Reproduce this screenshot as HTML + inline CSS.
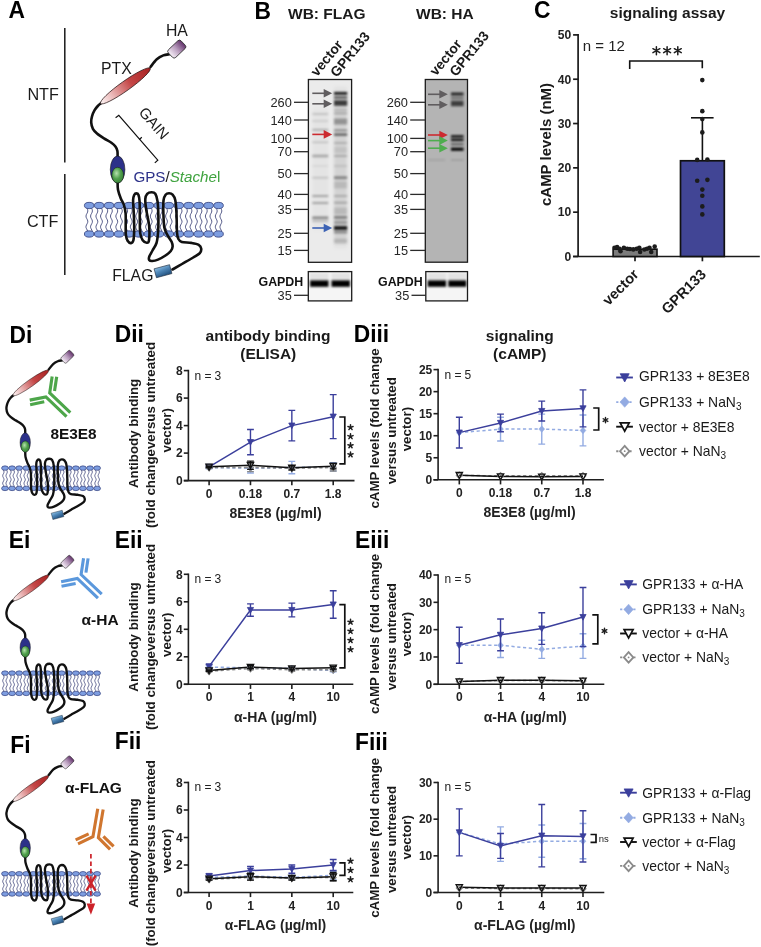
<!DOCTYPE html><html><head><meta charset="utf-8"><style>html,body{margin:0;padding:0;background:#fff;}svg{display:block;will-change:transform;}</style></head><body>
<svg width="761" height="947" viewBox="0 0 761 947" font-family='"Liberation Sans", sans-serif'>
<defs>
<linearGradient id="gPTX" gradientUnits="userSpaceOnUse" x1="-30" y1="0" x2="30" y2="0">
<stop offset="0" stop-color="#fdf3f3"/><stop offset="0.22" stop-color="#ecbcbc"/><stop offset="0.6" stop-color="#c44646"/><stop offset="1" stop-color="#a92222"/></linearGradient>
<linearGradient id="gHA" gradientUnits="userSpaceOnUse" x1="-8" y1="0" x2="8" y2="0">
<stop offset="0" stop-color="#f1e8f2"/><stop offset="0.5" stop-color="#b89cbd"/><stop offset="1" stop-color="#6a3b72"/></linearGradient>
<radialGradient id="gGreen" cx="0.4" cy="0.38" r="0.65">
<stop offset="0" stop-color="#b5e0ad"/><stop offset="0.55" stop-color="#4f9f4b"/><stop offset="1" stop-color="#3a8438"/></radialGradient>
<linearGradient id="gFLAG" x1="0" y1="0" x2="0.3" y2="1">
<stop offset="0" stop-color="#8fc0e4"/><stop offset="0.5" stop-color="#4f87b8"/><stop offset="1" stop-color="#2a5a88"/></linearGradient>
<filter id="blur1" x="-50%" y="-200%" width="200%" height="500%"><feGaussianBlur stdDeviation="0.7"/></filter>
<filter id="blur2" x="-50%" y="-200%" width="200%" height="500%"><feGaussianBlur stdDeviation="1.3"/></filter>
<filter id="bb" x="-50%" y="-300%" width="200%" height="700%"><feGaussianBlur stdDeviation="1.1 0.8"/></filter>
<filter id="bs" x="-50%" y="-20%" width="200%" height="140%"><feGaussianBlur stdDeviation="1.5 3"/></filter>
<filter id="blur3" x="-50%" y="-100%" width="200%" height="300%"><feGaussianBlur stdDeviation="2.2"/></filter>

</defs>
<text x="0" y="0" font-size="24.8" font-weight="bold" fill="#000" transform="translate(8.40,18.40) scale(0.92,1)">A</text>
<g stroke="#1a1a1a" stroke-width="1.5"><line x1="64.8" y1="28" x2="64.8" y2="162.6"/><line x1="64.8" y1="174" x2="64.8" y2="275"/></g>
<text x="27.40" y="100.20" font-size="16.2" fill="#1a1a1a">NTF</text>
<text x="26.90" y="227.00" font-size="16.2" fill="#1a1a1a">CTF</text>
<g><path d="M86.9,208.3 L87.6,209.6 L87.8,210.9 L87.6,212.1 L87.0,213.4 L86.3,214.7 L86.0,216.0 L86.1,217.2 L86.7,218.5 L87.4,219.8 L87.8,221.1 L87.7,222.4 L87.2,223.6 L86.5,224.9 L86.0,226.2 L86.0,227.5 L86.5,228.7 L87.2,230.0 L87.7,231.3 M91.5,208.3 L92.2,209.6 L92.4,210.9 L92.2,212.1 L91.6,213.4 L90.9,214.7 L90.6,216.0 L90.7,217.2 L91.3,218.5 L92.0,219.8 L92.4,221.1 L92.3,222.4 L91.8,223.6 L91.1,224.9 L90.6,226.2 L90.6,227.5 L91.1,228.7 L91.8,230.0 L92.3,231.3 M96.9,208.3 L97.5,209.6 L97.8,210.9 L97.6,212.1 L97.0,213.4 L96.3,214.7 L95.9,216.0 L96.1,217.2 L96.6,218.5 L97.3,219.8 L97.8,221.1 L97.7,222.4 L97.2,223.6 L96.5,224.9 L96.0,226.2 L96.0,227.5 L96.4,228.7 L97.1,230.0 L97.7,231.3 M101.5,208.3 L102.1,209.6 L102.4,210.9 L102.2,212.1 L101.6,213.4 L100.9,214.7 L100.5,216.0 L100.7,217.2 L101.2,218.5 L101.9,219.8 L102.4,221.1 L102.3,222.4 L101.8,223.6 L101.1,224.9 L100.6,226.2 L100.6,227.5 L101.0,228.7 L101.7,230.0 L102.3,231.3 M106.8,208.3 L107.5,209.6 L107.7,210.9 L107.5,212.1 L106.9,213.4 L106.2,214.7 L105.9,216.0 L106.0,217.2 L106.6,218.5 L107.3,219.8 L107.7,221.1 L107.6,222.4 L107.1,223.6 L106.4,224.9 L105.9,226.2 L105.9,227.5 L106.4,228.7 L107.1,230.0 L107.6,231.3 M111.4,208.3 L112.1,209.6 L112.3,210.9 L112.1,212.1 L111.5,213.4 L110.8,214.7 L110.5,216.0 L110.6,217.2 L111.2,218.5 L111.9,219.8 L112.3,221.1 L112.2,222.4 L111.7,223.6 L111.0,224.9 L110.5,226.2 L110.5,227.5 L111.0,228.7 L111.7,230.0 L112.2,231.3 M116.8,208.3 L117.4,209.6 L117.7,210.9 L117.5,212.1 L116.9,213.4 L116.2,214.7 L115.8,216.0 L116.0,217.2 L116.5,218.5 L117.2,219.8 L117.7,221.1 L117.6,222.4 L117.1,223.6 L116.4,224.9 L115.9,226.2 L115.9,227.5 L116.3,228.7 L117.0,230.0 L117.6,231.3 M121.3,208.3 L122.0,209.6 L122.3,210.9 L122.1,212.1 L121.5,213.4 L120.8,214.7 L120.4,216.0 L120.6,217.2 L121.1,218.5 L121.8,219.8 L122.3,221.1 L122.2,222.4 L121.7,223.6 L121.0,224.9 L120.5,226.2 L120.5,227.5 L120.9,228.7 L121.6,230.0 L122.2,231.3 M126.7,208.3 L127.4,209.6 L127.6,210.9 L127.4,212.1 L126.8,213.4 L126.1,214.7 L125.8,216.0 L125.9,217.2 L126.5,218.5 L127.2,219.8 L127.6,221.1 L127.5,222.4 L127.0,223.6 L126.3,224.9 L125.8,226.2 L125.8,227.5 L126.3,228.7 L127.0,230.0 L127.5,231.3 M131.3,208.3 L132.0,209.6 L132.2,210.9 L132.0,212.1 L131.4,213.4 L130.7,214.7 L130.4,216.0 L130.5,217.2 L131.1,218.5 L131.8,219.8 L132.2,221.1 L132.1,222.4 L131.6,223.6 L130.9,224.9 L130.4,226.2 L130.4,227.5 L130.9,228.7 L131.6,230.0 L132.1,231.3 M136.6,208.3 L137.3,209.6 L137.6,210.9 L137.4,212.1 L136.8,213.4 L136.1,214.7 L135.7,216.0 L135.9,217.2 L136.4,218.5 L137.1,219.8 L137.6,221.1 L137.5,222.4 L137.0,223.6 L136.3,224.9 L135.8,226.2 L135.8,227.5 L136.2,228.7 L136.9,230.0 L137.5,231.3 M141.2,208.3 L141.9,209.6 L142.2,210.9 L142.0,212.1 L141.4,213.4 L140.7,214.7 L140.3,216.0 L140.5,217.2 L141.0,218.5 L141.7,219.8 L142.2,221.1 L142.1,222.4 L141.6,223.6 L140.9,224.9 L140.4,226.2 L140.4,227.5 L140.8,228.7 L141.5,230.0 L142.1,231.3 M146.6,208.3 L147.3,209.6 L147.5,210.9 L147.3,212.1 L146.7,213.4 L146.0,214.7 L145.7,216.0 L145.8,217.2 L146.4,218.5 L147.1,219.8 L147.5,221.1 L147.4,222.4 L146.9,223.6 L146.2,224.9 L145.7,226.2 L145.7,227.5 L146.2,228.7 L146.9,230.0 L147.4,231.3 M151.2,208.3 L151.9,209.6 L152.1,210.9 L151.9,212.1 L151.3,213.4 L150.6,214.7 L150.3,216.0 L150.4,217.2 L151.0,218.5 L151.7,219.8 L152.1,221.1 L152.0,222.4 L151.5,223.6 L150.8,224.9 L150.3,226.2 L150.3,227.5 L150.8,228.7 L151.5,230.0 L152.0,231.3 M156.5,208.3 L157.2,209.6 L157.5,210.9 L157.3,212.1 L156.7,213.4 L156.0,214.7 L155.6,216.0 L155.8,217.2 L156.3,218.5 L157.0,219.8 L157.5,221.1 L157.4,222.4 L156.9,223.6 L156.2,224.9 L155.7,226.2 L155.7,227.5 L156.1,228.7 L156.8,230.0 L157.4,231.3 M161.2,208.3 L161.8,209.6 L162.1,210.9 L161.9,212.1 L161.3,213.4 L160.6,214.7 L160.2,216.0 L160.4,217.2 L160.9,218.5 L161.6,219.8 L162.1,221.1 L162.0,222.4 L161.5,223.6 L160.8,224.9 L160.3,226.2 L160.3,227.5 L160.7,228.7 L161.4,230.0 L162.0,231.3 M166.5,208.3 L167.2,209.6 L167.4,210.9 L167.2,212.1 L166.6,213.4 L165.9,214.7 L165.6,216.0 L165.7,217.2 L166.3,218.5 L167.0,219.8 L167.4,221.1 L167.3,222.4 L166.8,223.6 L166.1,224.9 L165.6,226.2 L165.6,227.5 L166.1,228.7 L166.8,230.0 L167.3,231.3 M171.1,208.3 L171.8,209.6 L172.0,210.9 L171.8,212.1 L171.2,213.4 L170.5,214.7 L170.2,216.0 L170.3,217.2 L170.9,218.5 L171.6,219.8 L172.0,221.1 L171.9,222.4 L171.4,223.6 L170.7,224.9 L170.2,226.2 L170.2,227.5 L170.7,228.7 L171.4,230.0 L171.9,231.3 M176.4,208.3 L177.1,209.6 L177.4,210.9 L177.2,212.1 L176.6,213.4 L175.9,214.7 L175.5,216.0 L175.7,217.2 L176.2,218.5 L176.9,219.8 L177.4,221.1 L177.3,222.4 L176.8,223.6 L176.1,224.9 L175.6,226.2 L175.6,227.5 L176.0,228.7 L176.7,230.0 L177.3,231.3 M181.1,208.3 L181.7,209.6 L182.0,210.9 L181.8,212.1 L181.2,213.4 L180.5,214.7 L180.1,216.0 L180.3,217.2 L180.8,218.5 L181.5,219.8 L182.0,221.1 L181.9,222.4 L181.4,223.6 L180.7,224.9 L180.2,226.2 L180.2,227.5 L180.6,228.7 L181.3,230.0 L181.9,231.3 M186.4,208.3 L187.1,209.6 L187.3,210.9 L187.1,212.1 L186.5,213.4 L185.8,214.7 L185.5,216.0 L185.6,217.2 L186.2,218.5 L186.9,219.8 L187.3,221.1 L187.2,222.4 L186.7,223.6 L186.0,224.9 L185.5,226.2 L185.5,227.5 L186.0,228.7 L186.7,230.0 L187.2,231.3 M191.0,208.3 L191.7,209.6 L191.9,210.9 L191.7,212.1 L191.1,213.4 L190.4,214.7 L190.1,216.0 L190.2,217.2 L190.8,218.5 L191.5,219.8 L191.9,221.1 L191.8,222.4 L191.3,223.6 L190.6,224.9 L190.1,226.2 L190.1,227.5 L190.6,228.7 L191.3,230.0 L191.8,231.3 M196.3,208.3 L197.0,209.6 L197.3,210.9 L197.1,212.1 L196.5,213.4 L195.8,214.7 L195.4,216.0 L195.6,217.2 L196.1,218.5 L196.8,219.8 L197.3,221.1 L197.2,222.4 L196.7,223.6 L196.0,224.9 L195.5,226.2 L195.5,227.5 L195.9,228.7 L196.6,230.0 L197.2,231.3 M200.9,208.3 L201.6,209.6 L201.9,210.9 L201.7,212.1 L201.1,213.4 L200.4,214.7 L200.0,216.0 L200.2,217.2 L200.7,218.5 L201.4,219.8 L201.9,221.1 L201.8,222.4 L201.3,223.6 L200.6,224.9 L200.1,226.2 L200.1,227.5 L200.5,228.7 L201.2,230.0 L201.8,231.3 M206.3,208.3 L207.0,209.6 L207.2,210.9 L207.0,212.1 L206.4,213.4 L205.7,214.7 L205.4,216.0 L205.5,217.2 L206.1,218.5 L206.8,219.8 L207.2,221.1 L207.1,222.4 L206.6,223.6 L205.9,224.9 L205.4,226.2 L205.4,227.5 L205.9,228.7 L206.6,230.0 L207.1,231.3 M210.9,208.3 L211.6,209.6 L211.8,210.9 L211.6,212.1 L211.0,213.4 L210.3,214.7 L210.0,216.0 L210.1,217.2 L210.7,218.5 L211.4,219.8 L211.8,221.1 L211.7,222.4 L211.2,223.6 L210.5,224.9 L210.0,226.2 L210.0,227.5 L210.5,228.7 L211.2,230.0 L211.7,231.3 M216.2,208.3 L216.9,209.6 L217.2,210.9 L217.0,212.1 L216.4,213.4 L215.7,214.7 L215.3,216.0 L215.5,217.2 L216.0,218.5 L216.7,219.8 L217.2,221.1 L217.1,222.4 L216.6,223.6 L215.9,224.9 L215.4,226.2 L215.4,227.5 L215.8,228.7 L216.5,230.0 L217.1,231.3 M220.9,208.3 L221.5,209.6 L221.8,210.9 L221.6,212.1 L221.0,213.4 L220.3,214.7 L219.9,216.0 L220.1,217.2 L220.6,218.5 L221.3,219.8 L221.8,221.1 L221.7,222.4 L221.2,223.6 L220.5,224.9 L220.0,226.2 L220.0,227.5 L220.4,228.7 L221.1,230.0 L221.7,231.3" fill="none" stroke="#1e2563" stroke-width="0.75"/><g fill="#7d9de0" stroke="#2b3572" stroke-width="0.75"><ellipse cx="89.20" cy="205.5" rx="4.8" ry="3.15"/><ellipse cx="99.15" cy="205.5" rx="4.8" ry="3.15"/><ellipse cx="109.10" cy="205.5" rx="4.8" ry="3.15"/><ellipse cx="119.05" cy="205.5" rx="4.8" ry="3.15"/><ellipse cx="129.00" cy="205.5" rx="4.8" ry="3.15"/><ellipse cx="138.95" cy="205.5" rx="4.8" ry="3.15"/><ellipse cx="148.90" cy="205.5" rx="4.8" ry="3.15"/><ellipse cx="158.85" cy="205.5" rx="4.8" ry="3.15"/><ellipse cx="168.80" cy="205.5" rx="4.8" ry="3.15"/><ellipse cx="178.75" cy="205.5" rx="4.8" ry="3.15"/><ellipse cx="188.70" cy="205.5" rx="4.8" ry="3.15"/><ellipse cx="198.65" cy="205.5" rx="4.8" ry="3.15"/><ellipse cx="208.60" cy="205.5" rx="4.8" ry="3.15"/><ellipse cx="218.55" cy="205.5" rx="4.8" ry="3.15"/><ellipse cx="89.20" cy="234.0" rx="4.8" ry="3.15"/><ellipse cx="99.15" cy="234.0" rx="4.8" ry="3.15"/><ellipse cx="109.10" cy="234.0" rx="4.8" ry="3.15"/><ellipse cx="119.05" cy="234.0" rx="4.8" ry="3.15"/><ellipse cx="129.00" cy="234.0" rx="4.8" ry="3.15"/><ellipse cx="138.95" cy="234.0" rx="4.8" ry="3.15"/><ellipse cx="148.90" cy="234.0" rx="4.8" ry="3.15"/><ellipse cx="158.85" cy="234.0" rx="4.8" ry="3.15"/><ellipse cx="168.80" cy="234.0" rx="4.8" ry="3.15"/><ellipse cx="178.75" cy="234.0" rx="4.8" ry="3.15"/><ellipse cx="188.70" cy="234.0" rx="4.8" ry="3.15"/><ellipse cx="198.65" cy="234.0" rx="4.8" ry="3.15"/><ellipse cx="208.60" cy="234.0" rx="4.8" ry="3.15"/><ellipse cx="218.55" cy="234.0" rx="4.8" ry="3.15"/></g><path d="M169.50,54.20 C168.47,54.40 165.42,54.55 163.30,55.40 C161.18,56.25 158.93,57.37 156.80,59.30 C154.67,61.23 151.55,65.72 150.50,67.00" fill="none" stroke="#111" stroke-width="2.6" stroke-linecap="round"/><path d="M101.20,103.00 C100.63,103.50 98.90,104.80 97.80,106.00 C96.70,107.20 95.57,108.48 94.60,110.20 C93.63,111.92 92.57,114.28 92.00,116.30 C91.43,118.32 91.05,120.22 91.20,122.30 C91.35,124.38 91.93,126.93 92.90,128.80 C93.87,130.67 95.15,131.90 97.00,133.50 C98.85,135.10 101.60,136.85 104.00,138.40 C106.40,139.95 109.47,141.40 111.40,142.80 C113.33,144.20 114.60,145.43 115.60,146.80 C116.60,148.17 117.07,149.30 117.40,151.00 C117.73,152.70 117.57,156.00 117.60,157.00" fill="none" stroke="#111" stroke-width="2.6" stroke-linecap="round"/><path d="M117.60,182.00 C117.67,183.30 117.47,187.05 118.00,189.80 C118.53,192.55 119.82,196.00 120.80,198.50 C121.78,201.00 123.10,202.30 123.90,204.80 C124.70,207.30 125.30,210.08 125.60,213.50 C125.90,216.92 125.65,221.75 125.70,225.30 C125.75,228.85 125.58,232.22 125.90,234.80 C126.22,237.38 126.75,239.42 127.60,240.80 C128.45,242.18 130.03,243.18 131.00,243.10 C131.97,243.02 132.87,242.60 133.40,240.30 C133.93,238.00 134.13,233.77 134.20,229.30 C134.27,224.83 133.98,218.38 133.80,213.50 C133.62,208.62 133.03,203.08 133.10,200.00 C133.17,196.92 133.67,196.10 134.20,195.00 C134.73,193.90 135.58,193.40 136.30,193.40 C137.02,193.40 137.95,193.62 138.50,195.00 C139.05,196.38 139.38,197.97 139.60,201.70 C139.82,205.43 139.70,212.15 139.80,217.40 C139.90,222.65 139.72,229.38 140.20,233.20 C140.68,237.02 141.63,238.72 142.70,240.30 C143.77,241.88 145.55,242.70 146.60,242.70 C147.65,242.70 148.58,243.20 149.00,240.30 C149.42,237.40 149.57,230.43 149.10,225.30 C148.63,220.17 146.83,213.88 146.20,209.50 C145.57,205.12 145.13,201.62 145.30,199.00 C145.47,196.38 146.17,194.92 147.20,193.80 C148.23,192.68 150.15,192.30 151.50,192.30 C152.85,192.30 154.28,192.23 155.30,193.80 C156.32,195.37 157.08,197.77 157.60,201.70 C158.12,205.63 158.32,212.35 158.40,217.40 C158.48,222.45 158.42,227.73 158.10,232.00 C157.78,236.27 157.43,239.92 156.50,243.00 C155.57,246.08 153.70,248.25 152.50,250.50 C151.30,252.75 149.85,254.92 149.30,256.50 C148.75,258.08 148.72,259.25 149.20,260.00 C149.68,260.75 150.73,261.07 152.20,261.00 C153.67,260.93 155.78,260.52 158.00,259.60 C160.22,258.68 163.37,256.93 165.50,255.50 C167.63,254.07 169.62,252.48 170.80,251.00 C171.98,249.52 172.47,248.13 172.60,246.60 C172.73,245.07 172.43,243.67 171.60,241.80 C170.77,239.93 168.80,237.73 167.60,235.40 C166.40,233.07 165.10,231.45 164.40,227.80 C163.70,224.15 163.55,218.05 163.40,213.50 C163.25,208.95 163.13,203.62 163.50,200.50 C163.87,197.38 164.68,196.02 165.60,194.80 C166.52,193.58 167.83,193.23 169.00,193.20 C170.17,193.17 171.55,193.43 172.60,194.60 C173.65,195.77 174.65,197.05 175.30,200.20 C175.95,203.35 176.22,208.12 176.50,213.50 C176.78,218.88 176.68,228.25 177.00,232.50 C177.32,236.75 177.60,237.43 178.40,239.00 C179.20,240.57 179.65,241.25 181.80,241.90 C183.95,242.55 188.48,242.42 191.30,242.90 C194.12,243.38 197.05,243.85 198.70,244.80 C200.35,245.75 201.02,247.20 201.20,248.60 C201.38,250.00 201.13,251.72 199.80,253.20 C198.47,254.68 196.17,255.70 193.20,257.50 C190.23,259.30 185.45,262.00 182.00,264.00 C178.55,266.00 174.08,268.58 172.50,269.50" fill="none" stroke="#111" stroke-width="2.6" stroke-linecap="round" stroke-linejoin="round"/><g transform="translate(125.4,85.9) rotate(-35.4)"><ellipse cx="0" cy="0" rx="30.4" ry="4.8" fill="url(#gPTX)" stroke="#2a1515" stroke-width="0.7"/></g><g transform="translate(176.8,49.1) rotate(-43.5)"><rect x="-8.8" y="-5.3" width="17.6" height="10.6" rx="2.4" fill="url(#gHA)" stroke="#2a2a2a" stroke-width="0.8"/></g><ellipse cx="117.6" cy="169.5" rx="7.3" ry="13.5" fill="#2c3189" stroke="#111" stroke-width="0.6"/><ellipse cx="117.7" cy="175.2" rx="5.9" ry="7.9" fill="url(#gGreen)" stroke="#111" stroke-width="0.5"/><g transform="translate(163.0,271.2) rotate(-15)"><rect x="-8" y="-4.6" width="16" height="9.2" fill="url(#gFLAG)" stroke="#1d2b3d" stroke-width="0.6"/></g></g>
<text x="165.90" y="35.80" font-size="15.8" fill="#1a1a1a">HA</text>
<text x="101.00" y="73.70" font-size="15.8" fill="#1a1a1a">PTX</text>
<polyline points="115.6,117.8 118.8,115.3 157.8,160.2 154.8,162.9" fill="none" stroke="#111" stroke-width="1.2"/>
<line x1="139.3" y1="139.5" x2="141.8" y2="137.3" stroke="#111" stroke-width="1.2"/>
<text x="0.00" y="0.00" font-size="15" fill="#1a1a1a" transform="translate(138.0,112.8) rotate(49)">GAIN</text>
<text x="133.4" y="181.6" font-size="15.2"><tspan fill="#2c3189">GPS</tspan><tspan fill="#1a1a1a">/</tspan><tspan fill="#3fa33f" font-style="italic">Stache</tspan><tspan fill="#3fa33f">l</tspan></text>
<text x="112.20" y="280.60" font-size="15.8" fill="#1a1a1a">FLAG</text>
<text x="0" y="0" font-size="24.8" font-weight="bold" fill="#000" transform="translate(254.60,18.60) scale(0.92,1)">B</text>
<text x="288.00" y="18.80" font-size="15.5" font-weight="bold" fill="#1a1a1a">WB: FLAG</text>
<text x="416.00" y="18.80" font-size="15.5" font-weight="bold" fill="#1a1a1a">WB: HA</text>
<rect x="308.4" y="79.5" width="43.200000000000045" height="182.8" fill="#ebebeb"/>
<rect x="334" y="90" width="13" height="155" fill="#000" fill-opacity="0.10" filter="url(#bs)"/>
<rect x="313" y="108" width="15" height="120" fill="#000" fill-opacity="0.03" filter="url(#bs)"/>
<rect x="334.00" y="92.10" width="13.20" height="2.60" fill="#000" fill-opacity="0.92" filter="url(#bb)"/>
<rect x="334.00" y="96.00" width="13.20" height="3.00" fill="#000" fill-opacity="0.5" filter="url(#bb)"/>
<rect x="334.00" y="100.25" width="13.20" height="5.50" fill="#000" fill-opacity="0.72" filter="url(#bb)"/>
<rect x="334.00" y="108.50" width="13.20" height="3.00" fill="#000" fill-opacity="0.12" filter="url(#bb)"/>
<rect x="334.00" y="112.40" width="13.20" height="2.00" fill="#000" fill-opacity="0.22" filter="url(#bb)"/>
<rect x="334.00" y="118.50" width="13.20" height="6.00" fill="#000" fill-opacity="0.3" filter="url(#bb)"/>
<rect x="334.00" y="129.40" width="13.20" height="2.00" fill="#000" fill-opacity="0.35" filter="url(#bb)"/>
<rect x="334.00" y="133.50" width="13.20" height="2.20" fill="#000" fill-opacity="0.6" filter="url(#bb)"/>
<rect x="334.00" y="142.20" width="13.20" height="1.60" fill="#000" fill-opacity="0.22" filter="url(#bb)"/>
<rect x="334.00" y="147.00" width="13.20" height="6.00" fill="#000" fill-opacity="0.08" filter="url(#bb)"/>
<rect x="334.00" y="155.00" width="13.20" height="2.00" fill="#000" fill-opacity="0.2" filter="url(#bb)"/>
<rect x="334.00" y="165.00" width="13.20" height="2.00" fill="#000" fill-opacity="0.1" filter="url(#bb)"/>
<rect x="334.00" y="176.30" width="13.20" height="2.80" fill="#000" fill-opacity="0.38" filter="url(#bb)"/>
<rect x="334.00" y="181.50" width="13.20" height="7.00" fill="#000" fill-opacity="0.12" filter="url(#bb)"/>
<rect x="334.00" y="195.10" width="13.20" height="1.80" fill="#000" fill-opacity="0.22" filter="url(#bb)"/>
<rect x="334.00" y="201.80" width="13.20" height="1.80" fill="#000" fill-opacity="0.25" filter="url(#bb)"/>
<rect x="334.00" y="207.50" width="13.20" height="7.00" fill="#000" fill-opacity="0.12" filter="url(#bb)"/>
<rect x="334.00" y="216.10" width="13.20" height="2.60" fill="#000" fill-opacity="0.42" filter="url(#bb)"/>
<rect x="334.00" y="220.50" width="13.20" height="4.00" fill="#000" fill-opacity="0.25" filter="url(#bb)"/>
<rect x="334.00" y="226.10" width="13.20" height="3.80" fill="#000" fill-opacity="0.9" filter="url(#bb)"/>
<rect x="334.00" y="230.50" width="13.20" height="3.00" fill="#000" fill-opacity="0.35" filter="url(#bb)"/>
<rect x="334.00" y="238.75" width="13.20" height="4.50" fill="#000" fill-opacity="0.15" filter="url(#bb)"/>
<rect x="312.30" y="113.20" width="16.00" height="1.60" fill="#000" fill-opacity="0.18" filter="url(#bb)"/>
<rect x="312.30" y="120.20" width="16.00" height="1.60" fill="#000" fill-opacity="0.13" filter="url(#bb)"/>
<rect x="312.30" y="128.90" width="16.00" height="1.80" fill="#000" fill-opacity="0.25" filter="url(#bb)"/>
<rect x="312.30" y="141.55" width="16.00" height="1.50" fill="#000" fill-opacity="0.18" filter="url(#bb)"/>
<rect x="312.30" y="154.70" width="16.00" height="2.60" fill="#000" fill-opacity="0.27" filter="url(#bb)"/>
<rect x="312.30" y="165.40" width="16.00" height="1.20" fill="#000" fill-opacity="0.1" filter="url(#bb)"/>
<rect x="312.30" y="176.90" width="16.00" height="1.60" fill="#000" fill-opacity="0.18" filter="url(#bb)"/>
<rect x="312.30" y="195.10" width="16.00" height="1.80" fill="#000" fill-opacity="0.32" filter="url(#bb)"/>
<rect x="312.30" y="202.10" width="16.00" height="1.80" fill="#000" fill-opacity="0.32" filter="url(#bb)"/>
<rect x="312.30" y="216.50" width="16.00" height="2.60" fill="#000" fill-opacity="0.4" filter="url(#bb)"/>
<rect x="312.30" y="220.00" width="16.00" height="2.00" fill="#000" fill-opacity="0.18" filter="url(#bb)"/>
<rect x="308.4" y="79.5" width="43.200000000000045" height="182.8" fill="none" stroke="#1c1c1c" stroke-width="1.3"/>
<line x1="294.0" y1="102.3" x2="308.4" y2="102.3" stroke="#2a2a2a" stroke-width="1.3"/><text x="291.80" y="106.80" font-size="12.8" text-anchor="end" fill="#262626">260</text><line x1="294.0" y1="120.0" x2="308.4" y2="120.0" stroke="#2a2a2a" stroke-width="1.3"/><text x="291.80" y="124.50" font-size="12.8" text-anchor="end" fill="#262626">140</text><line x1="294.0" y1="138.4" x2="308.4" y2="138.4" stroke="#2a2a2a" stroke-width="1.3"/><text x="291.80" y="142.90" font-size="12.8" text-anchor="end" fill="#262626">100</text><line x1="294.0" y1="151.7" x2="308.4" y2="151.7" stroke="#2a2a2a" stroke-width="1.3"/><text x="291.80" y="156.20" font-size="12.8" text-anchor="end" fill="#262626">70</text><line x1="294.0" y1="173.6" x2="308.4" y2="173.6" stroke="#2a2a2a" stroke-width="1.3"/><text x="291.80" y="178.10" font-size="12.8" text-anchor="end" fill="#262626">50</text><line x1="294.0" y1="194.4" x2="308.4" y2="194.4" stroke="#2a2a2a" stroke-width="1.3"/><text x="291.80" y="198.90" font-size="12.8" text-anchor="end" fill="#262626">40</text><line x1="294.0" y1="209.4" x2="308.4" y2="209.4" stroke="#2a2a2a" stroke-width="1.3"/><text x="291.80" y="213.90" font-size="12.8" text-anchor="end" fill="#262626">35</text><line x1="294.0" y1="233.3" x2="308.4" y2="233.3" stroke="#2a2a2a" stroke-width="1.3"/><text x="291.80" y="237.80" font-size="12.8" text-anchor="end" fill="#262626">25</text><line x1="294.0" y1="250.4" x2="308.4" y2="250.4" stroke="#2a2a2a" stroke-width="1.3"/><text x="291.80" y="254.90" font-size="12.8" text-anchor="end" fill="#262626">15</text>
<line x1="312.3" y1="93.3" x2="324.7" y2="93.3" stroke="#605d5f" stroke-width="1.6"/><polygon points="323.7,89.0 332.2,93.3 323.7,97.6" fill="#605d5f"/>
<line x1="312.3" y1="103.8" x2="324.7" y2="103.8" stroke="#605d5f" stroke-width="1.6"/><polygon points="323.7,99.5 332.2,103.8 323.7,108.1" fill="#605d5f"/>
<line x1="312.3" y1="134.4" x2="324.7" y2="134.4" stroke="#cc2b30" stroke-width="1.6"/><polygon points="323.7,130.1 332.2,134.4 323.7,138.70000000000002" fill="#cc2b30"/>
<line x1="312.3" y1="228.0" x2="324.7" y2="228.0" stroke="#3c62b4" stroke-width="1.6"/><polygon points="323.7,223.7 332.2,228.0 323.7,232.3" fill="#3c62b4"/>
<text x="0.00" y="0.00" font-size="13.9" font-weight="bold" fill="#1a1a1a" transform="translate(317.0,77.2) rotate(-50.5)">vector</text>
<text x="0.00" y="0.00" font-size="13.9" font-weight="bold" fill="#1a1a1a" transform="translate(336.8,78.0) rotate(-50.5)">GPR133</text>
<rect x="425.3" y="79.5" width="42.19999999999999" height="182.7" fill="#b4b4b4"/>
<rect x="451.00" y="92.50" width="12.50" height="3.00" fill="#000" fill-opacity="0.8" filter="url(#bb)"/>
<rect x="451.00" y="96.50" width="12.50" height="3.00" fill="#000" fill-opacity="0.35" filter="url(#bb)"/>
<rect x="451.00" y="100.75" width="12.50" height="5.50" fill="#000" fill-opacity="0.66" filter="url(#bb)"/>
<rect x="451.00" y="135.10" width="12.50" height="2.60" fill="#000" fill-opacity="0.88" filter="url(#bb)"/>
<rect x="451.00" y="138.50" width="12.50" height="2.60" fill="#000" fill-opacity="0.9" filter="url(#bb)"/>
<rect x="451.00" y="143.20" width="12.50" height="2.00" fill="#000" fill-opacity="0.5" filter="url(#bb)"/>
<rect x="451.00" y="147.60" width="12.50" height="3.20" fill="#000" fill-opacity="0.97" filter="url(#bb)"/>
<rect x="451.00" y="159.10" width="12.50" height="1.80" fill="#000" fill-opacity="0.12" filter="url(#bb)"/>
<rect x="428.00" y="159.10" width="17.00" height="1.80" fill="#000" fill-opacity="0.1" filter="url(#bb)"/>
<rect x="425.3" y="79.5" width="42.19999999999999" height="182.7" fill="none" stroke="#1c1c1c" stroke-width="1.3"/>
<line x1="410.2" y1="102.3" x2="425.3" y2="102.3" stroke="#2a2a2a" stroke-width="1.3"/><text x="408.00" y="106.80" font-size="12.8" text-anchor="end" fill="#262626">260</text><line x1="410.2" y1="120.0" x2="425.3" y2="120.0" stroke="#2a2a2a" stroke-width="1.3"/><text x="408.00" y="124.50" font-size="12.8" text-anchor="end" fill="#262626">140</text><line x1="410.2" y1="138.4" x2="425.3" y2="138.4" stroke="#2a2a2a" stroke-width="1.3"/><text x="408.00" y="142.90" font-size="12.8" text-anchor="end" fill="#262626">100</text><line x1="410.2" y1="151.7" x2="425.3" y2="151.7" stroke="#2a2a2a" stroke-width="1.3"/><text x="408.00" y="156.20" font-size="12.8" text-anchor="end" fill="#262626">70</text><line x1="410.2" y1="173.6" x2="425.3" y2="173.6" stroke="#2a2a2a" stroke-width="1.3"/><text x="408.00" y="178.10" font-size="12.8" text-anchor="end" fill="#262626">50</text><line x1="410.2" y1="194.4" x2="425.3" y2="194.4" stroke="#2a2a2a" stroke-width="1.3"/><text x="408.00" y="198.90" font-size="12.8" text-anchor="end" fill="#262626">40</text><line x1="410.2" y1="209.4" x2="425.3" y2="209.4" stroke="#2a2a2a" stroke-width="1.3"/><text x="408.00" y="213.90" font-size="12.8" text-anchor="end" fill="#262626">35</text><line x1="410.2" y1="233.3" x2="425.3" y2="233.3" stroke="#2a2a2a" stroke-width="1.3"/><text x="408.00" y="237.80" font-size="12.8" text-anchor="end" fill="#262626">25</text><line x1="410.2" y1="250.4" x2="425.3" y2="250.4" stroke="#2a2a2a" stroke-width="1.3"/><text x="408.00" y="254.90" font-size="12.8" text-anchor="end" fill="#262626">15</text>
<line x1="428.0" y1="94.3" x2="440.3" y2="94.3" stroke="#605d5f" stroke-width="1.6"/><polygon points="439.3,90.0 447.8,94.3 439.3,98.6" fill="#605d5f"/>
<line x1="428.0" y1="104.8" x2="440.3" y2="104.8" stroke="#605d5f" stroke-width="1.6"/><polygon points="439.3,100.5 447.8,104.8 439.3,109.1" fill="#605d5f"/>
<line x1="428.0" y1="135.0" x2="440.3" y2="135.0" stroke="#cc2b30" stroke-width="1.6"/><polygon points="439.3,130.7 447.8,135.0 439.3,139.3" fill="#cc2b30"/>
<line x1="428.0" y1="140.6" x2="440.3" y2="140.6" stroke="#4fad4f" stroke-width="1.6"/><polygon points="439.3,136.29999999999998 447.8,140.6 439.3,144.9" fill="#4fad4f"/>
<line x1="428.0" y1="148.2" x2="440.3" y2="148.2" stroke="#4fad4f" stroke-width="1.6"/><polygon points="439.3,143.89999999999998 447.8,148.2 439.3,152.5" fill="#4fad4f"/>
<text x="0.00" y="0.00" font-size="13.9" font-weight="bold" fill="#1a1a1a" transform="translate(436.0,76.6) rotate(-50.5)">vector</text>
<text x="0.00" y="0.00" font-size="13.9" font-weight="bold" fill="#1a1a1a" transform="translate(455.9,77.2) rotate(-50.5)">GPR133</text>
<rect x="308.3" y="271.6" width="43.39999999999998" height="29.299999999999955" fill="#f5f5f5"/><rect x="309.8" y="273" width="19.0" height="8" fill="#bbb" fill-opacity="0.3" filter="url(#blur2)"/><rect x="331.2" y="273" width="19.0" height="8" fill="#bbb" fill-opacity="0.3" filter="url(#blur2)"/><rect x="310.10" y="280.40" width="18.40" height="6.40" fill="#000" fill-opacity="1.0" filter="url(#bb)"/><rect x="331.50" y="280.40" width="18.40" height="6.40" fill="#000" fill-opacity="1.0" filter="url(#bb)"/><rect x="308.3" y="271.6" width="43.39999999999998" height="29.299999999999955" fill="none" stroke="#1c1c1c" stroke-width="1.3"/><line x1="294.0" y1="295.3" x2="308.3" y2="295.3" stroke="#2a2a2a" stroke-width="1.3"/><text x="291.80" y="299.80" font-size="12.8" text-anchor="end" fill="#262626">35</text><text x="258.50" y="286.40" font-size="12.4" font-weight="bold" fill="#111">GAPDH</text>
<rect x="425.8" y="271.6" width="41.69999999999999" height="29.299999999999955" fill="#f5f5f5"/><rect x="427.4" y="273" width="19.0" height="8" fill="#bbb" fill-opacity="0.3" filter="url(#blur2)"/><rect x="448.0" y="273" width="18.600000000000023" height="8" fill="#bbb" fill-opacity="0.3" filter="url(#blur2)"/><rect x="427.70" y="280.40" width="18.40" height="6.40" fill="#000" fill-opacity="1.0" filter="url(#bb)"/><rect x="448.30" y="280.40" width="18.00" height="6.40" fill="#000" fill-opacity="1.0" filter="url(#bb)"/><rect x="425.8" y="271.6" width="41.69999999999999" height="29.299999999999955" fill="none" stroke="#1c1c1c" stroke-width="1.3"/><line x1="411.5" y1="295.3" x2="425.8" y2="295.3" stroke="#2a2a2a" stroke-width="1.3"/><text x="409.30" y="299.80" font-size="12.8" text-anchor="end" fill="#262626">35</text><text x="378.00" y="286.40" font-size="12.4" font-weight="bold" fill="#111">GAPDH</text>
<text x="0" y="0" font-size="24.8" font-weight="bold" fill="#000" transform="translate(534.00,18.30) scale(0.92,1)">C</text>
<text x="667.50" y="18.00" font-size="15.5" font-weight="bold" text-anchor="middle" fill="#1a1a1a">signaling assay</text>
<g stroke="#1a1a1a" stroke-width="1.7" fill="none">
<line x1="578.1" y1="34.09999999999998" x2="578.1" y2="256.5"/>
<line x1="573.1" y1="256.50" x2="578.1" y2="256.50"/>
<line x1="573.1" y1="212.18" x2="578.1" y2="212.18"/>
<line x1="573.1" y1="167.86" x2="578.1" y2="167.86"/>
<line x1="573.1" y1="123.54" x2="578.1" y2="123.54"/>
<line x1="573.1" y1="79.22" x2="578.1" y2="79.22"/>
<line x1="573.1" y1="34.90" x2="578.1" y2="34.90"/>
<line x1="573.1" y1="256.5" x2="759.8" y2="256.5"/>
<line x1="635.0" y1="256.5" x2="635.0" y2="261.3"/><line x1="702.4" y1="256.5" x2="702.4" y2="261.3"/>
</g>
<text x="571.20" y="260.80" font-size="12.1" font-weight="bold" text-anchor="end" fill="#222">0</text>
<text x="571.20" y="216.48" font-size="12.1" font-weight="bold" text-anchor="end" fill="#222">10</text>
<text x="571.20" y="172.16" font-size="12.1" font-weight="bold" text-anchor="end" fill="#222">20</text>
<text x="571.20" y="127.84" font-size="12.1" font-weight="bold" text-anchor="end" fill="#222">30</text>
<text x="571.20" y="83.52" font-size="12.1" font-weight="bold" text-anchor="end" fill="#222">40</text>
<text x="571.20" y="39.20" font-size="12.1" font-weight="bold" text-anchor="end" fill="#222">50</text>
<text x="0.00" y="0.00" font-size="15" font-weight="bold" text-anchor="middle" fill="#1a1a1a" transform="translate(550.6,144.5) rotate(-90)">cAMP levels (nM)</text>
<text x="582.8" y="50.8" font-size="15.0" fill="#222">n = 12</text>
<rect x="613.1" y="249.19" width="43.9" height="7.31" fill="#7b7b7b" stroke="#111" stroke-width="1.6"/>
<rect x="680.5" y="160.77" width="43.8" height="95.73" fill="#414595" stroke="#111" stroke-width="1.7"/>
<line x1="702.4" y1="160.77" x2="702.4" y2="117.78" stroke="#111" stroke-width="1.6"/>
<line x1="691.0" y1="117.78" x2="713.6" y2="117.78" stroke="#111" stroke-width="1.6"/>
<circle cx="702.3" cy="80.11" r="2.3" fill="#1c1c1c"/>
<circle cx="702.3" cy="111.13" r="2.3" fill="#1c1c1c"/>
<circle cx="702.3" cy="119.11" r="2.3" fill="#1c1c1c"/>
<circle cx="702.3" cy="132.40" r="2.3" fill="#1c1c1c"/>
<circle cx="697.2" cy="159.88" r="2.3" fill="#1c1c1c"/>
<circle cx="707.4" cy="159.44" r="2.3" fill="#1c1c1c"/>
<circle cx="697.2" cy="180.71" r="2.3" fill="#1c1c1c"/>
<circle cx="707.4" cy="179.83" r="2.3" fill="#1c1c1c"/>
<circle cx="702.3" cy="189.58" r="2.3" fill="#1c1c1c"/>
<circle cx="702.3" cy="195.78" r="2.3" fill="#1c1c1c"/>
<circle cx="702.3" cy="206.42" r="2.3" fill="#1c1c1c"/>
<circle cx="702.3" cy="214.40" r="2.3" fill="#1c1c1c"/>
<circle cx="614.5" cy="247.81" r="2.3" fill="#1c1c1c"/>
<circle cx="617.1" cy="247.02" r="2.3" fill="#1c1c1c"/>
<circle cx="619.6" cy="248.70" r="2.3" fill="#1c1c1c"/>
<circle cx="620.5" cy="251.18" r="2.3" fill="#1c1c1c"/>
<circle cx="623.9" cy="247.81" r="2.3" fill="#1c1c1c"/>
<circle cx="627.3" cy="248.70" r="2.3" fill="#1c1c1c"/>
<circle cx="629.9" cy="248.97" r="2.3" fill="#1c1c1c"/>
<circle cx="633.3" cy="249.41" r="2.3" fill="#1c1c1c"/>
<circle cx="636.7" cy="248.70" r="2.3" fill="#1c1c1c"/>
<circle cx="639.3" cy="247.81" r="2.3" fill="#1c1c1c"/>
<circle cx="640.1" cy="252.07" r="2.3" fill="#1c1c1c"/>
<circle cx="644.4" cy="249.50" r="2.3" fill="#1c1c1c"/>
<circle cx="647.0" cy="248.70" r="2.3" fill="#1c1c1c"/>
<circle cx="649.5" cy="247.81" r="2.3" fill="#1c1c1c"/>
<circle cx="651.2" cy="252.07" r="2.3" fill="#1c1c1c"/>
<circle cx="654.7" cy="246.62" r="2.3" fill="#1c1c1c"/>
<polyline points="629.7,68.9 629.7,61.0 702.3,61.0 702.3,68.3" fill="none" stroke="#111" stroke-width="1.6"/>
<path d="M656.40,46.70L656.40,54.70M652.94,48.70L659.86,52.70M659.86,48.70L652.94,52.70" stroke="#1e1e1e" stroke-width="1.5" stroke-linecap="round" fill="none"/><path d="M667.10,46.70L667.10,54.70M663.64,48.70L670.56,52.70M670.56,48.70L663.64,52.70" stroke="#1e1e1e" stroke-width="1.5" stroke-linecap="round" fill="none"/><path d="M677.80,46.70L677.80,54.70M674.34,48.70L681.26,52.70M681.26,48.70L674.34,52.70" stroke="#1e1e1e" stroke-width="1.5" stroke-linecap="round" fill="none"/>
<text x="0.00" y="0.00" font-size="14.6" font-weight="bold" text-anchor="end" fill="#1a1a1a" transform="translate(639.6,275.2) rotate(-45)">vector</text>
<text x="0.00" y="0.00" font-size="14.6" font-weight="bold" text-anchor="end" fill="#1a1a1a" transform="translate(707.1,275.2) rotate(-45)">GPR133</text>
<g transform="translate(-58.5,321.8) scale(0.712)"><path d="M86.9,208.3 L87.6,209.6 L87.8,210.9 L87.6,212.1 L87.0,213.4 L86.3,214.7 L86.0,216.0 L86.1,217.2 L86.7,218.5 L87.4,219.8 L87.8,221.1 L87.7,222.4 L87.2,223.6 L86.5,224.9 L86.0,226.2 L86.0,227.5 L86.5,228.7 L87.2,230.0 L87.7,231.3 M91.5,208.3 L92.2,209.6 L92.4,210.9 L92.2,212.1 L91.6,213.4 L90.9,214.7 L90.6,216.0 L90.7,217.2 L91.3,218.5 L92.0,219.8 L92.4,221.1 L92.3,222.4 L91.8,223.6 L91.1,224.9 L90.6,226.2 L90.6,227.5 L91.1,228.7 L91.8,230.0 L92.3,231.3 M96.9,208.3 L97.5,209.6 L97.8,210.9 L97.6,212.1 L97.0,213.4 L96.3,214.7 L95.9,216.0 L96.1,217.2 L96.6,218.5 L97.3,219.8 L97.8,221.1 L97.7,222.4 L97.2,223.6 L96.5,224.9 L96.0,226.2 L96.0,227.5 L96.4,228.7 L97.1,230.0 L97.7,231.3 M101.5,208.3 L102.1,209.6 L102.4,210.9 L102.2,212.1 L101.6,213.4 L100.9,214.7 L100.5,216.0 L100.7,217.2 L101.2,218.5 L101.9,219.8 L102.4,221.1 L102.3,222.4 L101.8,223.6 L101.1,224.9 L100.6,226.2 L100.6,227.5 L101.0,228.7 L101.7,230.0 L102.3,231.3 M106.8,208.3 L107.5,209.6 L107.7,210.9 L107.5,212.1 L106.9,213.4 L106.2,214.7 L105.9,216.0 L106.0,217.2 L106.6,218.5 L107.3,219.8 L107.7,221.1 L107.6,222.4 L107.1,223.6 L106.4,224.9 L105.9,226.2 L105.9,227.5 L106.4,228.7 L107.1,230.0 L107.6,231.3 M111.4,208.3 L112.1,209.6 L112.3,210.9 L112.1,212.1 L111.5,213.4 L110.8,214.7 L110.5,216.0 L110.6,217.2 L111.2,218.5 L111.9,219.8 L112.3,221.1 L112.2,222.4 L111.7,223.6 L111.0,224.9 L110.5,226.2 L110.5,227.5 L111.0,228.7 L111.7,230.0 L112.2,231.3 M116.8,208.3 L117.4,209.6 L117.7,210.9 L117.5,212.1 L116.9,213.4 L116.2,214.7 L115.8,216.0 L116.0,217.2 L116.5,218.5 L117.2,219.8 L117.7,221.1 L117.6,222.4 L117.1,223.6 L116.4,224.9 L115.9,226.2 L115.9,227.5 L116.3,228.7 L117.0,230.0 L117.6,231.3 M121.3,208.3 L122.0,209.6 L122.3,210.9 L122.1,212.1 L121.5,213.4 L120.8,214.7 L120.4,216.0 L120.6,217.2 L121.1,218.5 L121.8,219.8 L122.3,221.1 L122.2,222.4 L121.7,223.6 L121.0,224.9 L120.5,226.2 L120.5,227.5 L120.9,228.7 L121.6,230.0 L122.2,231.3 M126.7,208.3 L127.4,209.6 L127.6,210.9 L127.4,212.1 L126.8,213.4 L126.1,214.7 L125.8,216.0 L125.9,217.2 L126.5,218.5 L127.2,219.8 L127.6,221.1 L127.5,222.4 L127.0,223.6 L126.3,224.9 L125.8,226.2 L125.8,227.5 L126.3,228.7 L127.0,230.0 L127.5,231.3 M131.3,208.3 L132.0,209.6 L132.2,210.9 L132.0,212.1 L131.4,213.4 L130.7,214.7 L130.4,216.0 L130.5,217.2 L131.1,218.5 L131.8,219.8 L132.2,221.1 L132.1,222.4 L131.6,223.6 L130.9,224.9 L130.4,226.2 L130.4,227.5 L130.9,228.7 L131.6,230.0 L132.1,231.3 M136.6,208.3 L137.3,209.6 L137.6,210.9 L137.4,212.1 L136.8,213.4 L136.1,214.7 L135.7,216.0 L135.9,217.2 L136.4,218.5 L137.1,219.8 L137.6,221.1 L137.5,222.4 L137.0,223.6 L136.3,224.9 L135.8,226.2 L135.8,227.5 L136.2,228.7 L136.9,230.0 L137.5,231.3 M141.2,208.3 L141.9,209.6 L142.2,210.9 L142.0,212.1 L141.4,213.4 L140.7,214.7 L140.3,216.0 L140.5,217.2 L141.0,218.5 L141.7,219.8 L142.2,221.1 L142.1,222.4 L141.6,223.6 L140.9,224.9 L140.4,226.2 L140.4,227.5 L140.8,228.7 L141.5,230.0 L142.1,231.3 M146.6,208.3 L147.3,209.6 L147.5,210.9 L147.3,212.1 L146.7,213.4 L146.0,214.7 L145.7,216.0 L145.8,217.2 L146.4,218.5 L147.1,219.8 L147.5,221.1 L147.4,222.4 L146.9,223.6 L146.2,224.9 L145.7,226.2 L145.7,227.5 L146.2,228.7 L146.9,230.0 L147.4,231.3 M151.2,208.3 L151.9,209.6 L152.1,210.9 L151.9,212.1 L151.3,213.4 L150.6,214.7 L150.3,216.0 L150.4,217.2 L151.0,218.5 L151.7,219.8 L152.1,221.1 L152.0,222.4 L151.5,223.6 L150.8,224.9 L150.3,226.2 L150.3,227.5 L150.8,228.7 L151.5,230.0 L152.0,231.3 M156.5,208.3 L157.2,209.6 L157.5,210.9 L157.3,212.1 L156.7,213.4 L156.0,214.7 L155.6,216.0 L155.8,217.2 L156.3,218.5 L157.0,219.8 L157.5,221.1 L157.4,222.4 L156.9,223.6 L156.2,224.9 L155.7,226.2 L155.7,227.5 L156.1,228.7 L156.8,230.0 L157.4,231.3 M161.2,208.3 L161.8,209.6 L162.1,210.9 L161.9,212.1 L161.3,213.4 L160.6,214.7 L160.2,216.0 L160.4,217.2 L160.9,218.5 L161.6,219.8 L162.1,221.1 L162.0,222.4 L161.5,223.6 L160.8,224.9 L160.3,226.2 L160.3,227.5 L160.7,228.7 L161.4,230.0 L162.0,231.3 M166.5,208.3 L167.2,209.6 L167.4,210.9 L167.2,212.1 L166.6,213.4 L165.9,214.7 L165.6,216.0 L165.7,217.2 L166.3,218.5 L167.0,219.8 L167.4,221.1 L167.3,222.4 L166.8,223.6 L166.1,224.9 L165.6,226.2 L165.6,227.5 L166.1,228.7 L166.8,230.0 L167.3,231.3 M171.1,208.3 L171.8,209.6 L172.0,210.9 L171.8,212.1 L171.2,213.4 L170.5,214.7 L170.2,216.0 L170.3,217.2 L170.9,218.5 L171.6,219.8 L172.0,221.1 L171.9,222.4 L171.4,223.6 L170.7,224.9 L170.2,226.2 L170.2,227.5 L170.7,228.7 L171.4,230.0 L171.9,231.3 M176.4,208.3 L177.1,209.6 L177.4,210.9 L177.2,212.1 L176.6,213.4 L175.9,214.7 L175.5,216.0 L175.7,217.2 L176.2,218.5 L176.9,219.8 L177.4,221.1 L177.3,222.4 L176.8,223.6 L176.1,224.9 L175.6,226.2 L175.6,227.5 L176.0,228.7 L176.7,230.0 L177.3,231.3 M181.1,208.3 L181.7,209.6 L182.0,210.9 L181.8,212.1 L181.2,213.4 L180.5,214.7 L180.1,216.0 L180.3,217.2 L180.8,218.5 L181.5,219.8 L182.0,221.1 L181.9,222.4 L181.4,223.6 L180.7,224.9 L180.2,226.2 L180.2,227.5 L180.6,228.7 L181.3,230.0 L181.9,231.3 M186.4,208.3 L187.1,209.6 L187.3,210.9 L187.1,212.1 L186.5,213.4 L185.8,214.7 L185.5,216.0 L185.6,217.2 L186.2,218.5 L186.9,219.8 L187.3,221.1 L187.2,222.4 L186.7,223.6 L186.0,224.9 L185.5,226.2 L185.5,227.5 L186.0,228.7 L186.7,230.0 L187.2,231.3 M191.0,208.3 L191.7,209.6 L191.9,210.9 L191.7,212.1 L191.1,213.4 L190.4,214.7 L190.1,216.0 L190.2,217.2 L190.8,218.5 L191.5,219.8 L191.9,221.1 L191.8,222.4 L191.3,223.6 L190.6,224.9 L190.1,226.2 L190.1,227.5 L190.6,228.7 L191.3,230.0 L191.8,231.3 M196.3,208.3 L197.0,209.6 L197.3,210.9 L197.1,212.1 L196.5,213.4 L195.8,214.7 L195.4,216.0 L195.6,217.2 L196.1,218.5 L196.8,219.8 L197.3,221.1 L197.2,222.4 L196.7,223.6 L196.0,224.9 L195.5,226.2 L195.5,227.5 L195.9,228.7 L196.6,230.0 L197.2,231.3 M200.9,208.3 L201.6,209.6 L201.9,210.9 L201.7,212.1 L201.1,213.4 L200.4,214.7 L200.0,216.0 L200.2,217.2 L200.7,218.5 L201.4,219.8 L201.9,221.1 L201.8,222.4 L201.3,223.6 L200.6,224.9 L200.1,226.2 L200.1,227.5 L200.5,228.7 L201.2,230.0 L201.8,231.3 M206.3,208.3 L207.0,209.6 L207.2,210.9 L207.0,212.1 L206.4,213.4 L205.7,214.7 L205.4,216.0 L205.5,217.2 L206.1,218.5 L206.8,219.8 L207.2,221.1 L207.1,222.4 L206.6,223.6 L205.9,224.9 L205.4,226.2 L205.4,227.5 L205.9,228.7 L206.6,230.0 L207.1,231.3 M210.9,208.3 L211.6,209.6 L211.8,210.9 L211.6,212.1 L211.0,213.4 L210.3,214.7 L210.0,216.0 L210.1,217.2 L210.7,218.5 L211.4,219.8 L211.8,221.1 L211.7,222.4 L211.2,223.6 L210.5,224.9 L210.0,226.2 L210.0,227.5 L210.5,228.7 L211.2,230.0 L211.7,231.3 M216.2,208.3 L216.9,209.6 L217.2,210.9 L217.0,212.1 L216.4,213.4 L215.7,214.7 L215.3,216.0 L215.5,217.2 L216.0,218.5 L216.7,219.8 L217.2,221.1 L217.1,222.4 L216.6,223.6 L215.9,224.9 L215.4,226.2 L215.4,227.5 L215.8,228.7 L216.5,230.0 L217.1,231.3 M220.9,208.3 L221.5,209.6 L221.8,210.9 L221.6,212.1 L221.0,213.4 L220.3,214.7 L219.9,216.0 L220.1,217.2 L220.6,218.5 L221.3,219.8 L221.8,221.1 L221.7,222.4 L221.2,223.6 L220.5,224.9 L220.0,226.2 L220.0,227.5 L220.4,228.7 L221.1,230.0 L221.7,231.3" fill="none" stroke="#1e2563" stroke-width="0.95"/><g fill="#7d9de0" stroke="#2b3572" stroke-width="0.9"><ellipse cx="89.20" cy="205.5" rx="4.8" ry="3.15"/><ellipse cx="99.15" cy="205.5" rx="4.8" ry="3.15"/><ellipse cx="109.10" cy="205.5" rx="4.8" ry="3.15"/><ellipse cx="119.05" cy="205.5" rx="4.8" ry="3.15"/><ellipse cx="129.00" cy="205.5" rx="4.8" ry="3.15"/><ellipse cx="138.95" cy="205.5" rx="4.8" ry="3.15"/><ellipse cx="148.90" cy="205.5" rx="4.8" ry="3.15"/><ellipse cx="158.85" cy="205.5" rx="4.8" ry="3.15"/><ellipse cx="168.80" cy="205.5" rx="4.8" ry="3.15"/><ellipse cx="178.75" cy="205.5" rx="4.8" ry="3.15"/><ellipse cx="188.70" cy="205.5" rx="4.8" ry="3.15"/><ellipse cx="198.65" cy="205.5" rx="4.8" ry="3.15"/><ellipse cx="208.60" cy="205.5" rx="4.8" ry="3.15"/><ellipse cx="218.55" cy="205.5" rx="4.8" ry="3.15"/><ellipse cx="89.20" cy="234.0" rx="4.8" ry="3.15"/><ellipse cx="99.15" cy="234.0" rx="4.8" ry="3.15"/><ellipse cx="109.10" cy="234.0" rx="4.8" ry="3.15"/><ellipse cx="119.05" cy="234.0" rx="4.8" ry="3.15"/><ellipse cx="129.00" cy="234.0" rx="4.8" ry="3.15"/><ellipse cx="138.95" cy="234.0" rx="4.8" ry="3.15"/><ellipse cx="148.90" cy="234.0" rx="4.8" ry="3.15"/><ellipse cx="158.85" cy="234.0" rx="4.8" ry="3.15"/><ellipse cx="168.80" cy="234.0" rx="4.8" ry="3.15"/><ellipse cx="178.75" cy="234.0" rx="4.8" ry="3.15"/><ellipse cx="188.70" cy="234.0" rx="4.8" ry="3.15"/><ellipse cx="198.65" cy="234.0" rx="4.8" ry="3.15"/><ellipse cx="208.60" cy="234.0" rx="4.8" ry="3.15"/><ellipse cx="218.55" cy="234.0" rx="4.8" ry="3.15"/></g><path d="M169.50,54.20 C168.47,54.40 165.42,54.55 163.30,55.40 C161.18,56.25 158.93,57.37 156.80,59.30 C154.67,61.23 151.55,65.72 150.50,67.00" fill="none" stroke="#111" stroke-width="3.3" stroke-linecap="round"/><path d="M101.20,103.00 C100.63,103.50 98.90,104.80 97.80,106.00 C96.70,107.20 95.57,108.48 94.60,110.20 C93.63,111.92 92.57,114.28 92.00,116.30 C91.43,118.32 91.05,120.22 91.20,122.30 C91.35,124.38 91.93,126.93 92.90,128.80 C93.87,130.67 95.15,131.90 97.00,133.50 C98.85,135.10 101.60,136.85 104.00,138.40 C106.40,139.95 109.47,141.40 111.40,142.80 C113.33,144.20 114.60,145.43 115.60,146.80 C116.60,148.17 117.07,149.30 117.40,151.00 C117.73,152.70 117.57,156.00 117.60,157.00" fill="none" stroke="#111" stroke-width="3.3" stroke-linecap="round"/><path d="M117.60,182.00 C117.67,183.30 117.47,187.05 118.00,189.80 C118.53,192.55 119.82,196.00 120.80,198.50 C121.78,201.00 123.10,202.30 123.90,204.80 C124.70,207.30 125.30,210.08 125.60,213.50 C125.90,216.92 125.65,221.75 125.70,225.30 C125.75,228.85 125.58,232.22 125.90,234.80 C126.22,237.38 126.75,239.42 127.60,240.80 C128.45,242.18 130.03,243.18 131.00,243.10 C131.97,243.02 132.87,242.60 133.40,240.30 C133.93,238.00 134.13,233.77 134.20,229.30 C134.27,224.83 133.98,218.38 133.80,213.50 C133.62,208.62 133.03,203.08 133.10,200.00 C133.17,196.92 133.67,196.10 134.20,195.00 C134.73,193.90 135.58,193.40 136.30,193.40 C137.02,193.40 137.95,193.62 138.50,195.00 C139.05,196.38 139.38,197.97 139.60,201.70 C139.82,205.43 139.70,212.15 139.80,217.40 C139.90,222.65 139.72,229.38 140.20,233.20 C140.68,237.02 141.63,238.72 142.70,240.30 C143.77,241.88 145.55,242.70 146.60,242.70 C147.65,242.70 148.58,243.20 149.00,240.30 C149.42,237.40 149.57,230.43 149.10,225.30 C148.63,220.17 146.83,213.88 146.20,209.50 C145.57,205.12 145.13,201.62 145.30,199.00 C145.47,196.38 146.17,194.92 147.20,193.80 C148.23,192.68 150.15,192.30 151.50,192.30 C152.85,192.30 154.28,192.23 155.30,193.80 C156.32,195.37 157.08,197.77 157.60,201.70 C158.12,205.63 158.32,212.35 158.40,217.40 C158.48,222.45 158.42,227.73 158.10,232.00 C157.78,236.27 157.43,239.92 156.50,243.00 C155.57,246.08 153.70,248.25 152.50,250.50 C151.30,252.75 149.85,254.92 149.30,256.50 C148.75,258.08 148.72,259.25 149.20,260.00 C149.68,260.75 150.73,261.07 152.20,261.00 C153.67,260.93 155.78,260.52 158.00,259.60 C160.22,258.68 163.37,256.93 165.50,255.50 C167.63,254.07 169.62,252.48 170.80,251.00 C171.98,249.52 172.47,248.13 172.60,246.60 C172.73,245.07 172.43,243.67 171.60,241.80 C170.77,239.93 168.80,237.73 167.60,235.40 C166.40,233.07 165.10,231.45 164.40,227.80 C163.70,224.15 163.55,218.05 163.40,213.50 C163.25,208.95 163.13,203.62 163.50,200.50 C163.87,197.38 164.68,196.02 165.60,194.80 C166.52,193.58 167.83,193.23 169.00,193.20 C170.17,193.17 171.55,193.43 172.60,194.60 C173.65,195.77 174.65,197.05 175.30,200.20 C175.95,203.35 176.22,208.12 176.50,213.50 C176.78,218.88 176.68,228.25 177.00,232.50 C177.32,236.75 177.60,237.43 178.40,239.00 C179.20,240.57 179.65,241.25 181.80,241.90 C183.95,242.55 188.48,242.42 191.30,242.90 C194.12,243.38 197.05,243.85 198.70,244.80 C200.35,245.75 201.02,247.20 201.20,248.60 C201.38,250.00 201.13,251.72 199.80,253.20 C198.47,254.68 196.17,255.70 193.20,257.50 C190.23,259.30 185.45,262.00 182.00,264.00 C178.55,266.00 174.08,268.58 172.50,269.50" fill="none" stroke="#111" stroke-width="3.3" stroke-linecap="round" stroke-linejoin="round"/><g transform="translate(125.4,85.9) rotate(-35.4)"><ellipse cx="0" cy="0" rx="30.4" ry="4.8" fill="url(#gPTX)" stroke="#2a1515" stroke-width="0.7"/></g><g transform="translate(176.8,49.1) rotate(-43.5)"><rect x="-8.8" y="-5.3" width="17.6" height="10.6" rx="2.4" fill="url(#gHA)" stroke="#2a2a2a" stroke-width="0.8"/></g><ellipse cx="117.6" cy="169.5" rx="7.3" ry="13.5" fill="#2c3189" stroke="#111" stroke-width="0.6"/><ellipse cx="117.7" cy="175.2" rx="5.9" ry="7.9" fill="url(#gGreen)" stroke="#111" stroke-width="0.5"/><g transform="translate(163.0,271.2) rotate(-15)"><rect x="-8" y="-4.6" width="16" height="9.2" fill="url(#gFLAG)" stroke="#1d2b3d" stroke-width="0.6"/></g></g>
<g transform="translate(-58.5,526.8) scale(0.712)"><path d="M86.9,208.3 L87.6,209.6 L87.8,210.9 L87.6,212.1 L87.0,213.4 L86.3,214.7 L86.0,216.0 L86.1,217.2 L86.7,218.5 L87.4,219.8 L87.8,221.1 L87.7,222.4 L87.2,223.6 L86.5,224.9 L86.0,226.2 L86.0,227.5 L86.5,228.7 L87.2,230.0 L87.7,231.3 M91.5,208.3 L92.2,209.6 L92.4,210.9 L92.2,212.1 L91.6,213.4 L90.9,214.7 L90.6,216.0 L90.7,217.2 L91.3,218.5 L92.0,219.8 L92.4,221.1 L92.3,222.4 L91.8,223.6 L91.1,224.9 L90.6,226.2 L90.6,227.5 L91.1,228.7 L91.8,230.0 L92.3,231.3 M96.9,208.3 L97.5,209.6 L97.8,210.9 L97.6,212.1 L97.0,213.4 L96.3,214.7 L95.9,216.0 L96.1,217.2 L96.6,218.5 L97.3,219.8 L97.8,221.1 L97.7,222.4 L97.2,223.6 L96.5,224.9 L96.0,226.2 L96.0,227.5 L96.4,228.7 L97.1,230.0 L97.7,231.3 M101.5,208.3 L102.1,209.6 L102.4,210.9 L102.2,212.1 L101.6,213.4 L100.9,214.7 L100.5,216.0 L100.7,217.2 L101.2,218.5 L101.9,219.8 L102.4,221.1 L102.3,222.4 L101.8,223.6 L101.1,224.9 L100.6,226.2 L100.6,227.5 L101.0,228.7 L101.7,230.0 L102.3,231.3 M106.8,208.3 L107.5,209.6 L107.7,210.9 L107.5,212.1 L106.9,213.4 L106.2,214.7 L105.9,216.0 L106.0,217.2 L106.6,218.5 L107.3,219.8 L107.7,221.1 L107.6,222.4 L107.1,223.6 L106.4,224.9 L105.9,226.2 L105.9,227.5 L106.4,228.7 L107.1,230.0 L107.6,231.3 M111.4,208.3 L112.1,209.6 L112.3,210.9 L112.1,212.1 L111.5,213.4 L110.8,214.7 L110.5,216.0 L110.6,217.2 L111.2,218.5 L111.9,219.8 L112.3,221.1 L112.2,222.4 L111.7,223.6 L111.0,224.9 L110.5,226.2 L110.5,227.5 L111.0,228.7 L111.7,230.0 L112.2,231.3 M116.8,208.3 L117.4,209.6 L117.7,210.9 L117.5,212.1 L116.9,213.4 L116.2,214.7 L115.8,216.0 L116.0,217.2 L116.5,218.5 L117.2,219.8 L117.7,221.1 L117.6,222.4 L117.1,223.6 L116.4,224.9 L115.9,226.2 L115.9,227.5 L116.3,228.7 L117.0,230.0 L117.6,231.3 M121.3,208.3 L122.0,209.6 L122.3,210.9 L122.1,212.1 L121.5,213.4 L120.8,214.7 L120.4,216.0 L120.6,217.2 L121.1,218.5 L121.8,219.8 L122.3,221.1 L122.2,222.4 L121.7,223.6 L121.0,224.9 L120.5,226.2 L120.5,227.5 L120.9,228.7 L121.6,230.0 L122.2,231.3 M126.7,208.3 L127.4,209.6 L127.6,210.9 L127.4,212.1 L126.8,213.4 L126.1,214.7 L125.8,216.0 L125.9,217.2 L126.5,218.5 L127.2,219.8 L127.6,221.1 L127.5,222.4 L127.0,223.6 L126.3,224.9 L125.8,226.2 L125.8,227.5 L126.3,228.7 L127.0,230.0 L127.5,231.3 M131.3,208.3 L132.0,209.6 L132.2,210.9 L132.0,212.1 L131.4,213.4 L130.7,214.7 L130.4,216.0 L130.5,217.2 L131.1,218.5 L131.8,219.8 L132.2,221.1 L132.1,222.4 L131.6,223.6 L130.9,224.9 L130.4,226.2 L130.4,227.5 L130.9,228.7 L131.6,230.0 L132.1,231.3 M136.6,208.3 L137.3,209.6 L137.6,210.9 L137.4,212.1 L136.8,213.4 L136.1,214.7 L135.7,216.0 L135.9,217.2 L136.4,218.5 L137.1,219.8 L137.6,221.1 L137.5,222.4 L137.0,223.6 L136.3,224.9 L135.8,226.2 L135.8,227.5 L136.2,228.7 L136.9,230.0 L137.5,231.3 M141.2,208.3 L141.9,209.6 L142.2,210.9 L142.0,212.1 L141.4,213.4 L140.7,214.7 L140.3,216.0 L140.5,217.2 L141.0,218.5 L141.7,219.8 L142.2,221.1 L142.1,222.4 L141.6,223.6 L140.9,224.9 L140.4,226.2 L140.4,227.5 L140.8,228.7 L141.5,230.0 L142.1,231.3 M146.6,208.3 L147.3,209.6 L147.5,210.9 L147.3,212.1 L146.7,213.4 L146.0,214.7 L145.7,216.0 L145.8,217.2 L146.4,218.5 L147.1,219.8 L147.5,221.1 L147.4,222.4 L146.9,223.6 L146.2,224.9 L145.7,226.2 L145.7,227.5 L146.2,228.7 L146.9,230.0 L147.4,231.3 M151.2,208.3 L151.9,209.6 L152.1,210.9 L151.9,212.1 L151.3,213.4 L150.6,214.7 L150.3,216.0 L150.4,217.2 L151.0,218.5 L151.7,219.8 L152.1,221.1 L152.0,222.4 L151.5,223.6 L150.8,224.9 L150.3,226.2 L150.3,227.5 L150.8,228.7 L151.5,230.0 L152.0,231.3 M156.5,208.3 L157.2,209.6 L157.5,210.9 L157.3,212.1 L156.7,213.4 L156.0,214.7 L155.6,216.0 L155.8,217.2 L156.3,218.5 L157.0,219.8 L157.5,221.1 L157.4,222.4 L156.9,223.6 L156.2,224.9 L155.7,226.2 L155.7,227.5 L156.1,228.7 L156.8,230.0 L157.4,231.3 M161.2,208.3 L161.8,209.6 L162.1,210.9 L161.9,212.1 L161.3,213.4 L160.6,214.7 L160.2,216.0 L160.4,217.2 L160.9,218.5 L161.6,219.8 L162.1,221.1 L162.0,222.4 L161.5,223.6 L160.8,224.9 L160.3,226.2 L160.3,227.5 L160.7,228.7 L161.4,230.0 L162.0,231.3 M166.5,208.3 L167.2,209.6 L167.4,210.9 L167.2,212.1 L166.6,213.4 L165.9,214.7 L165.6,216.0 L165.7,217.2 L166.3,218.5 L167.0,219.8 L167.4,221.1 L167.3,222.4 L166.8,223.6 L166.1,224.9 L165.6,226.2 L165.6,227.5 L166.1,228.7 L166.8,230.0 L167.3,231.3 M171.1,208.3 L171.8,209.6 L172.0,210.9 L171.8,212.1 L171.2,213.4 L170.5,214.7 L170.2,216.0 L170.3,217.2 L170.9,218.5 L171.6,219.8 L172.0,221.1 L171.9,222.4 L171.4,223.6 L170.7,224.9 L170.2,226.2 L170.2,227.5 L170.7,228.7 L171.4,230.0 L171.9,231.3 M176.4,208.3 L177.1,209.6 L177.4,210.9 L177.2,212.1 L176.6,213.4 L175.9,214.7 L175.5,216.0 L175.7,217.2 L176.2,218.5 L176.9,219.8 L177.4,221.1 L177.3,222.4 L176.8,223.6 L176.1,224.9 L175.6,226.2 L175.6,227.5 L176.0,228.7 L176.7,230.0 L177.3,231.3 M181.1,208.3 L181.7,209.6 L182.0,210.9 L181.8,212.1 L181.2,213.4 L180.5,214.7 L180.1,216.0 L180.3,217.2 L180.8,218.5 L181.5,219.8 L182.0,221.1 L181.9,222.4 L181.4,223.6 L180.7,224.9 L180.2,226.2 L180.2,227.5 L180.6,228.7 L181.3,230.0 L181.9,231.3 M186.4,208.3 L187.1,209.6 L187.3,210.9 L187.1,212.1 L186.5,213.4 L185.8,214.7 L185.5,216.0 L185.6,217.2 L186.2,218.5 L186.9,219.8 L187.3,221.1 L187.2,222.4 L186.7,223.6 L186.0,224.9 L185.5,226.2 L185.5,227.5 L186.0,228.7 L186.7,230.0 L187.2,231.3 M191.0,208.3 L191.7,209.6 L191.9,210.9 L191.7,212.1 L191.1,213.4 L190.4,214.7 L190.1,216.0 L190.2,217.2 L190.8,218.5 L191.5,219.8 L191.9,221.1 L191.8,222.4 L191.3,223.6 L190.6,224.9 L190.1,226.2 L190.1,227.5 L190.6,228.7 L191.3,230.0 L191.8,231.3 M196.3,208.3 L197.0,209.6 L197.3,210.9 L197.1,212.1 L196.5,213.4 L195.8,214.7 L195.4,216.0 L195.6,217.2 L196.1,218.5 L196.8,219.8 L197.3,221.1 L197.2,222.4 L196.7,223.6 L196.0,224.9 L195.5,226.2 L195.5,227.5 L195.9,228.7 L196.6,230.0 L197.2,231.3 M200.9,208.3 L201.6,209.6 L201.9,210.9 L201.7,212.1 L201.1,213.4 L200.4,214.7 L200.0,216.0 L200.2,217.2 L200.7,218.5 L201.4,219.8 L201.9,221.1 L201.8,222.4 L201.3,223.6 L200.6,224.9 L200.1,226.2 L200.1,227.5 L200.5,228.7 L201.2,230.0 L201.8,231.3 M206.3,208.3 L207.0,209.6 L207.2,210.9 L207.0,212.1 L206.4,213.4 L205.7,214.7 L205.4,216.0 L205.5,217.2 L206.1,218.5 L206.8,219.8 L207.2,221.1 L207.1,222.4 L206.6,223.6 L205.9,224.9 L205.4,226.2 L205.4,227.5 L205.9,228.7 L206.6,230.0 L207.1,231.3 M210.9,208.3 L211.6,209.6 L211.8,210.9 L211.6,212.1 L211.0,213.4 L210.3,214.7 L210.0,216.0 L210.1,217.2 L210.7,218.5 L211.4,219.8 L211.8,221.1 L211.7,222.4 L211.2,223.6 L210.5,224.9 L210.0,226.2 L210.0,227.5 L210.5,228.7 L211.2,230.0 L211.7,231.3 M216.2,208.3 L216.9,209.6 L217.2,210.9 L217.0,212.1 L216.4,213.4 L215.7,214.7 L215.3,216.0 L215.5,217.2 L216.0,218.5 L216.7,219.8 L217.2,221.1 L217.1,222.4 L216.6,223.6 L215.9,224.9 L215.4,226.2 L215.4,227.5 L215.8,228.7 L216.5,230.0 L217.1,231.3 M220.9,208.3 L221.5,209.6 L221.8,210.9 L221.6,212.1 L221.0,213.4 L220.3,214.7 L219.9,216.0 L220.1,217.2 L220.6,218.5 L221.3,219.8 L221.8,221.1 L221.7,222.4 L221.2,223.6 L220.5,224.9 L220.0,226.2 L220.0,227.5 L220.4,228.7 L221.1,230.0 L221.7,231.3" fill="none" stroke="#1e2563" stroke-width="0.95"/><g fill="#7d9de0" stroke="#2b3572" stroke-width="0.9"><ellipse cx="89.20" cy="205.5" rx="4.8" ry="3.15"/><ellipse cx="99.15" cy="205.5" rx="4.8" ry="3.15"/><ellipse cx="109.10" cy="205.5" rx="4.8" ry="3.15"/><ellipse cx="119.05" cy="205.5" rx="4.8" ry="3.15"/><ellipse cx="129.00" cy="205.5" rx="4.8" ry="3.15"/><ellipse cx="138.95" cy="205.5" rx="4.8" ry="3.15"/><ellipse cx="148.90" cy="205.5" rx="4.8" ry="3.15"/><ellipse cx="158.85" cy="205.5" rx="4.8" ry="3.15"/><ellipse cx="168.80" cy="205.5" rx="4.8" ry="3.15"/><ellipse cx="178.75" cy="205.5" rx="4.8" ry="3.15"/><ellipse cx="188.70" cy="205.5" rx="4.8" ry="3.15"/><ellipse cx="198.65" cy="205.5" rx="4.8" ry="3.15"/><ellipse cx="208.60" cy="205.5" rx="4.8" ry="3.15"/><ellipse cx="218.55" cy="205.5" rx="4.8" ry="3.15"/><ellipse cx="89.20" cy="234.0" rx="4.8" ry="3.15"/><ellipse cx="99.15" cy="234.0" rx="4.8" ry="3.15"/><ellipse cx="109.10" cy="234.0" rx="4.8" ry="3.15"/><ellipse cx="119.05" cy="234.0" rx="4.8" ry="3.15"/><ellipse cx="129.00" cy="234.0" rx="4.8" ry="3.15"/><ellipse cx="138.95" cy="234.0" rx="4.8" ry="3.15"/><ellipse cx="148.90" cy="234.0" rx="4.8" ry="3.15"/><ellipse cx="158.85" cy="234.0" rx="4.8" ry="3.15"/><ellipse cx="168.80" cy="234.0" rx="4.8" ry="3.15"/><ellipse cx="178.75" cy="234.0" rx="4.8" ry="3.15"/><ellipse cx="188.70" cy="234.0" rx="4.8" ry="3.15"/><ellipse cx="198.65" cy="234.0" rx="4.8" ry="3.15"/><ellipse cx="208.60" cy="234.0" rx="4.8" ry="3.15"/><ellipse cx="218.55" cy="234.0" rx="4.8" ry="3.15"/></g><path d="M169.50,54.20 C168.47,54.40 165.42,54.55 163.30,55.40 C161.18,56.25 158.93,57.37 156.80,59.30 C154.67,61.23 151.55,65.72 150.50,67.00" fill="none" stroke="#111" stroke-width="3.3" stroke-linecap="round"/><path d="M101.20,103.00 C100.63,103.50 98.90,104.80 97.80,106.00 C96.70,107.20 95.57,108.48 94.60,110.20 C93.63,111.92 92.57,114.28 92.00,116.30 C91.43,118.32 91.05,120.22 91.20,122.30 C91.35,124.38 91.93,126.93 92.90,128.80 C93.87,130.67 95.15,131.90 97.00,133.50 C98.85,135.10 101.60,136.85 104.00,138.40 C106.40,139.95 109.47,141.40 111.40,142.80 C113.33,144.20 114.60,145.43 115.60,146.80 C116.60,148.17 117.07,149.30 117.40,151.00 C117.73,152.70 117.57,156.00 117.60,157.00" fill="none" stroke="#111" stroke-width="3.3" stroke-linecap="round"/><path d="M117.60,182.00 C117.67,183.30 117.47,187.05 118.00,189.80 C118.53,192.55 119.82,196.00 120.80,198.50 C121.78,201.00 123.10,202.30 123.90,204.80 C124.70,207.30 125.30,210.08 125.60,213.50 C125.90,216.92 125.65,221.75 125.70,225.30 C125.75,228.85 125.58,232.22 125.90,234.80 C126.22,237.38 126.75,239.42 127.60,240.80 C128.45,242.18 130.03,243.18 131.00,243.10 C131.97,243.02 132.87,242.60 133.40,240.30 C133.93,238.00 134.13,233.77 134.20,229.30 C134.27,224.83 133.98,218.38 133.80,213.50 C133.62,208.62 133.03,203.08 133.10,200.00 C133.17,196.92 133.67,196.10 134.20,195.00 C134.73,193.90 135.58,193.40 136.30,193.40 C137.02,193.40 137.95,193.62 138.50,195.00 C139.05,196.38 139.38,197.97 139.60,201.70 C139.82,205.43 139.70,212.15 139.80,217.40 C139.90,222.65 139.72,229.38 140.20,233.20 C140.68,237.02 141.63,238.72 142.70,240.30 C143.77,241.88 145.55,242.70 146.60,242.70 C147.65,242.70 148.58,243.20 149.00,240.30 C149.42,237.40 149.57,230.43 149.10,225.30 C148.63,220.17 146.83,213.88 146.20,209.50 C145.57,205.12 145.13,201.62 145.30,199.00 C145.47,196.38 146.17,194.92 147.20,193.80 C148.23,192.68 150.15,192.30 151.50,192.30 C152.85,192.30 154.28,192.23 155.30,193.80 C156.32,195.37 157.08,197.77 157.60,201.70 C158.12,205.63 158.32,212.35 158.40,217.40 C158.48,222.45 158.42,227.73 158.10,232.00 C157.78,236.27 157.43,239.92 156.50,243.00 C155.57,246.08 153.70,248.25 152.50,250.50 C151.30,252.75 149.85,254.92 149.30,256.50 C148.75,258.08 148.72,259.25 149.20,260.00 C149.68,260.75 150.73,261.07 152.20,261.00 C153.67,260.93 155.78,260.52 158.00,259.60 C160.22,258.68 163.37,256.93 165.50,255.50 C167.63,254.07 169.62,252.48 170.80,251.00 C171.98,249.52 172.47,248.13 172.60,246.60 C172.73,245.07 172.43,243.67 171.60,241.80 C170.77,239.93 168.80,237.73 167.60,235.40 C166.40,233.07 165.10,231.45 164.40,227.80 C163.70,224.15 163.55,218.05 163.40,213.50 C163.25,208.95 163.13,203.62 163.50,200.50 C163.87,197.38 164.68,196.02 165.60,194.80 C166.52,193.58 167.83,193.23 169.00,193.20 C170.17,193.17 171.55,193.43 172.60,194.60 C173.65,195.77 174.65,197.05 175.30,200.20 C175.95,203.35 176.22,208.12 176.50,213.50 C176.78,218.88 176.68,228.25 177.00,232.50 C177.32,236.75 177.60,237.43 178.40,239.00 C179.20,240.57 179.65,241.25 181.80,241.90 C183.95,242.55 188.48,242.42 191.30,242.90 C194.12,243.38 197.05,243.85 198.70,244.80 C200.35,245.75 201.02,247.20 201.20,248.60 C201.38,250.00 201.13,251.72 199.80,253.20 C198.47,254.68 196.17,255.70 193.20,257.50 C190.23,259.30 185.45,262.00 182.00,264.00 C178.55,266.00 174.08,268.58 172.50,269.50" fill="none" stroke="#111" stroke-width="3.3" stroke-linecap="round" stroke-linejoin="round"/><g transform="translate(125.4,85.9) rotate(-35.4)"><ellipse cx="0" cy="0" rx="30.4" ry="4.8" fill="url(#gPTX)" stroke="#2a1515" stroke-width="0.7"/></g><g transform="translate(176.8,49.1) rotate(-43.5)"><rect x="-8.8" y="-5.3" width="17.6" height="10.6" rx="2.4" fill="url(#gHA)" stroke="#2a2a2a" stroke-width="0.8"/></g><ellipse cx="117.6" cy="169.5" rx="7.3" ry="13.5" fill="#2c3189" stroke="#111" stroke-width="0.6"/><ellipse cx="117.7" cy="175.2" rx="5.9" ry="7.9" fill="url(#gGreen)" stroke="#111" stroke-width="0.5"/><g transform="translate(163.0,271.2) rotate(-15)"><rect x="-8" y="-4.6" width="16" height="9.2" fill="url(#gFLAG)" stroke="#1d2b3d" stroke-width="0.6"/></g></g>
<g transform="translate(-58.5,727.4000000000001) scale(0.712)"><path d="M86.9,208.3 L87.6,209.6 L87.8,210.9 L87.6,212.1 L87.0,213.4 L86.3,214.7 L86.0,216.0 L86.1,217.2 L86.7,218.5 L87.4,219.8 L87.8,221.1 L87.7,222.4 L87.2,223.6 L86.5,224.9 L86.0,226.2 L86.0,227.5 L86.5,228.7 L87.2,230.0 L87.7,231.3 M91.5,208.3 L92.2,209.6 L92.4,210.9 L92.2,212.1 L91.6,213.4 L90.9,214.7 L90.6,216.0 L90.7,217.2 L91.3,218.5 L92.0,219.8 L92.4,221.1 L92.3,222.4 L91.8,223.6 L91.1,224.9 L90.6,226.2 L90.6,227.5 L91.1,228.7 L91.8,230.0 L92.3,231.3 M96.9,208.3 L97.5,209.6 L97.8,210.9 L97.6,212.1 L97.0,213.4 L96.3,214.7 L95.9,216.0 L96.1,217.2 L96.6,218.5 L97.3,219.8 L97.8,221.1 L97.7,222.4 L97.2,223.6 L96.5,224.9 L96.0,226.2 L96.0,227.5 L96.4,228.7 L97.1,230.0 L97.7,231.3 M101.5,208.3 L102.1,209.6 L102.4,210.9 L102.2,212.1 L101.6,213.4 L100.9,214.7 L100.5,216.0 L100.7,217.2 L101.2,218.5 L101.9,219.8 L102.4,221.1 L102.3,222.4 L101.8,223.6 L101.1,224.9 L100.6,226.2 L100.6,227.5 L101.0,228.7 L101.7,230.0 L102.3,231.3 M106.8,208.3 L107.5,209.6 L107.7,210.9 L107.5,212.1 L106.9,213.4 L106.2,214.7 L105.9,216.0 L106.0,217.2 L106.6,218.5 L107.3,219.8 L107.7,221.1 L107.6,222.4 L107.1,223.6 L106.4,224.9 L105.9,226.2 L105.9,227.5 L106.4,228.7 L107.1,230.0 L107.6,231.3 M111.4,208.3 L112.1,209.6 L112.3,210.9 L112.1,212.1 L111.5,213.4 L110.8,214.7 L110.5,216.0 L110.6,217.2 L111.2,218.5 L111.9,219.8 L112.3,221.1 L112.2,222.4 L111.7,223.6 L111.0,224.9 L110.5,226.2 L110.5,227.5 L111.0,228.7 L111.7,230.0 L112.2,231.3 M116.8,208.3 L117.4,209.6 L117.7,210.9 L117.5,212.1 L116.9,213.4 L116.2,214.7 L115.8,216.0 L116.0,217.2 L116.5,218.5 L117.2,219.8 L117.7,221.1 L117.6,222.4 L117.1,223.6 L116.4,224.9 L115.9,226.2 L115.9,227.5 L116.3,228.7 L117.0,230.0 L117.6,231.3 M121.3,208.3 L122.0,209.6 L122.3,210.9 L122.1,212.1 L121.5,213.4 L120.8,214.7 L120.4,216.0 L120.6,217.2 L121.1,218.5 L121.8,219.8 L122.3,221.1 L122.2,222.4 L121.7,223.6 L121.0,224.9 L120.5,226.2 L120.5,227.5 L120.9,228.7 L121.6,230.0 L122.2,231.3 M126.7,208.3 L127.4,209.6 L127.6,210.9 L127.4,212.1 L126.8,213.4 L126.1,214.7 L125.8,216.0 L125.9,217.2 L126.5,218.5 L127.2,219.8 L127.6,221.1 L127.5,222.4 L127.0,223.6 L126.3,224.9 L125.8,226.2 L125.8,227.5 L126.3,228.7 L127.0,230.0 L127.5,231.3 M131.3,208.3 L132.0,209.6 L132.2,210.9 L132.0,212.1 L131.4,213.4 L130.7,214.7 L130.4,216.0 L130.5,217.2 L131.1,218.5 L131.8,219.8 L132.2,221.1 L132.1,222.4 L131.6,223.6 L130.9,224.9 L130.4,226.2 L130.4,227.5 L130.9,228.7 L131.6,230.0 L132.1,231.3 M136.6,208.3 L137.3,209.6 L137.6,210.9 L137.4,212.1 L136.8,213.4 L136.1,214.7 L135.7,216.0 L135.9,217.2 L136.4,218.5 L137.1,219.8 L137.6,221.1 L137.5,222.4 L137.0,223.6 L136.3,224.9 L135.8,226.2 L135.8,227.5 L136.2,228.7 L136.9,230.0 L137.5,231.3 M141.2,208.3 L141.9,209.6 L142.2,210.9 L142.0,212.1 L141.4,213.4 L140.7,214.7 L140.3,216.0 L140.5,217.2 L141.0,218.5 L141.7,219.8 L142.2,221.1 L142.1,222.4 L141.6,223.6 L140.9,224.9 L140.4,226.2 L140.4,227.5 L140.8,228.7 L141.5,230.0 L142.1,231.3 M146.6,208.3 L147.3,209.6 L147.5,210.9 L147.3,212.1 L146.7,213.4 L146.0,214.7 L145.7,216.0 L145.8,217.2 L146.4,218.5 L147.1,219.8 L147.5,221.1 L147.4,222.4 L146.9,223.6 L146.2,224.9 L145.7,226.2 L145.7,227.5 L146.2,228.7 L146.9,230.0 L147.4,231.3 M151.2,208.3 L151.9,209.6 L152.1,210.9 L151.9,212.1 L151.3,213.4 L150.6,214.7 L150.3,216.0 L150.4,217.2 L151.0,218.5 L151.7,219.8 L152.1,221.1 L152.0,222.4 L151.5,223.6 L150.8,224.9 L150.3,226.2 L150.3,227.5 L150.8,228.7 L151.5,230.0 L152.0,231.3 M156.5,208.3 L157.2,209.6 L157.5,210.9 L157.3,212.1 L156.7,213.4 L156.0,214.7 L155.6,216.0 L155.8,217.2 L156.3,218.5 L157.0,219.8 L157.5,221.1 L157.4,222.4 L156.9,223.6 L156.2,224.9 L155.7,226.2 L155.7,227.5 L156.1,228.7 L156.8,230.0 L157.4,231.3 M161.2,208.3 L161.8,209.6 L162.1,210.9 L161.9,212.1 L161.3,213.4 L160.6,214.7 L160.2,216.0 L160.4,217.2 L160.9,218.5 L161.6,219.8 L162.1,221.1 L162.0,222.4 L161.5,223.6 L160.8,224.9 L160.3,226.2 L160.3,227.5 L160.7,228.7 L161.4,230.0 L162.0,231.3 M166.5,208.3 L167.2,209.6 L167.4,210.9 L167.2,212.1 L166.6,213.4 L165.9,214.7 L165.6,216.0 L165.7,217.2 L166.3,218.5 L167.0,219.8 L167.4,221.1 L167.3,222.4 L166.8,223.6 L166.1,224.9 L165.6,226.2 L165.6,227.5 L166.1,228.7 L166.8,230.0 L167.3,231.3 M171.1,208.3 L171.8,209.6 L172.0,210.9 L171.8,212.1 L171.2,213.4 L170.5,214.7 L170.2,216.0 L170.3,217.2 L170.9,218.5 L171.6,219.8 L172.0,221.1 L171.9,222.4 L171.4,223.6 L170.7,224.9 L170.2,226.2 L170.2,227.5 L170.7,228.7 L171.4,230.0 L171.9,231.3 M176.4,208.3 L177.1,209.6 L177.4,210.9 L177.2,212.1 L176.6,213.4 L175.9,214.7 L175.5,216.0 L175.7,217.2 L176.2,218.5 L176.9,219.8 L177.4,221.1 L177.3,222.4 L176.8,223.6 L176.1,224.9 L175.6,226.2 L175.6,227.5 L176.0,228.7 L176.7,230.0 L177.3,231.3 M181.1,208.3 L181.7,209.6 L182.0,210.9 L181.8,212.1 L181.2,213.4 L180.5,214.7 L180.1,216.0 L180.3,217.2 L180.8,218.5 L181.5,219.8 L182.0,221.1 L181.9,222.4 L181.4,223.6 L180.7,224.9 L180.2,226.2 L180.2,227.5 L180.6,228.7 L181.3,230.0 L181.9,231.3 M186.4,208.3 L187.1,209.6 L187.3,210.9 L187.1,212.1 L186.5,213.4 L185.8,214.7 L185.5,216.0 L185.6,217.2 L186.2,218.5 L186.9,219.8 L187.3,221.1 L187.2,222.4 L186.7,223.6 L186.0,224.9 L185.5,226.2 L185.5,227.5 L186.0,228.7 L186.7,230.0 L187.2,231.3 M191.0,208.3 L191.7,209.6 L191.9,210.9 L191.7,212.1 L191.1,213.4 L190.4,214.7 L190.1,216.0 L190.2,217.2 L190.8,218.5 L191.5,219.8 L191.9,221.1 L191.8,222.4 L191.3,223.6 L190.6,224.9 L190.1,226.2 L190.1,227.5 L190.6,228.7 L191.3,230.0 L191.8,231.3 M196.3,208.3 L197.0,209.6 L197.3,210.9 L197.1,212.1 L196.5,213.4 L195.8,214.7 L195.4,216.0 L195.6,217.2 L196.1,218.5 L196.8,219.8 L197.3,221.1 L197.2,222.4 L196.7,223.6 L196.0,224.9 L195.5,226.2 L195.5,227.5 L195.9,228.7 L196.6,230.0 L197.2,231.3 M200.9,208.3 L201.6,209.6 L201.9,210.9 L201.7,212.1 L201.1,213.4 L200.4,214.7 L200.0,216.0 L200.2,217.2 L200.7,218.5 L201.4,219.8 L201.9,221.1 L201.8,222.4 L201.3,223.6 L200.6,224.9 L200.1,226.2 L200.1,227.5 L200.5,228.7 L201.2,230.0 L201.8,231.3 M206.3,208.3 L207.0,209.6 L207.2,210.9 L207.0,212.1 L206.4,213.4 L205.7,214.7 L205.4,216.0 L205.5,217.2 L206.1,218.5 L206.8,219.8 L207.2,221.1 L207.1,222.4 L206.6,223.6 L205.9,224.9 L205.4,226.2 L205.4,227.5 L205.9,228.7 L206.6,230.0 L207.1,231.3 M210.9,208.3 L211.6,209.6 L211.8,210.9 L211.6,212.1 L211.0,213.4 L210.3,214.7 L210.0,216.0 L210.1,217.2 L210.7,218.5 L211.4,219.8 L211.8,221.1 L211.7,222.4 L211.2,223.6 L210.5,224.9 L210.0,226.2 L210.0,227.5 L210.5,228.7 L211.2,230.0 L211.7,231.3 M216.2,208.3 L216.9,209.6 L217.2,210.9 L217.0,212.1 L216.4,213.4 L215.7,214.7 L215.3,216.0 L215.5,217.2 L216.0,218.5 L216.7,219.8 L217.2,221.1 L217.1,222.4 L216.6,223.6 L215.9,224.9 L215.4,226.2 L215.4,227.5 L215.8,228.7 L216.5,230.0 L217.1,231.3 M220.9,208.3 L221.5,209.6 L221.8,210.9 L221.6,212.1 L221.0,213.4 L220.3,214.7 L219.9,216.0 L220.1,217.2 L220.6,218.5 L221.3,219.8 L221.8,221.1 L221.7,222.4 L221.2,223.6 L220.5,224.9 L220.0,226.2 L220.0,227.5 L220.4,228.7 L221.1,230.0 L221.7,231.3" fill="none" stroke="#1e2563" stroke-width="0.95"/><g fill="#7d9de0" stroke="#2b3572" stroke-width="0.9"><ellipse cx="89.20" cy="205.5" rx="4.8" ry="3.15"/><ellipse cx="99.15" cy="205.5" rx="4.8" ry="3.15"/><ellipse cx="109.10" cy="205.5" rx="4.8" ry="3.15"/><ellipse cx="119.05" cy="205.5" rx="4.8" ry="3.15"/><ellipse cx="129.00" cy="205.5" rx="4.8" ry="3.15"/><ellipse cx="138.95" cy="205.5" rx="4.8" ry="3.15"/><ellipse cx="148.90" cy="205.5" rx="4.8" ry="3.15"/><ellipse cx="158.85" cy="205.5" rx="4.8" ry="3.15"/><ellipse cx="168.80" cy="205.5" rx="4.8" ry="3.15"/><ellipse cx="178.75" cy="205.5" rx="4.8" ry="3.15"/><ellipse cx="188.70" cy="205.5" rx="4.8" ry="3.15"/><ellipse cx="198.65" cy="205.5" rx="4.8" ry="3.15"/><ellipse cx="208.60" cy="205.5" rx="4.8" ry="3.15"/><ellipse cx="218.55" cy="205.5" rx="4.8" ry="3.15"/><ellipse cx="89.20" cy="234.0" rx="4.8" ry="3.15"/><ellipse cx="99.15" cy="234.0" rx="4.8" ry="3.15"/><ellipse cx="109.10" cy="234.0" rx="4.8" ry="3.15"/><ellipse cx="119.05" cy="234.0" rx="4.8" ry="3.15"/><ellipse cx="129.00" cy="234.0" rx="4.8" ry="3.15"/><ellipse cx="138.95" cy="234.0" rx="4.8" ry="3.15"/><ellipse cx="148.90" cy="234.0" rx="4.8" ry="3.15"/><ellipse cx="158.85" cy="234.0" rx="4.8" ry="3.15"/><ellipse cx="168.80" cy="234.0" rx="4.8" ry="3.15"/><ellipse cx="178.75" cy="234.0" rx="4.8" ry="3.15"/><ellipse cx="188.70" cy="234.0" rx="4.8" ry="3.15"/><ellipse cx="198.65" cy="234.0" rx="4.8" ry="3.15"/><ellipse cx="208.60" cy="234.0" rx="4.8" ry="3.15"/><ellipse cx="218.55" cy="234.0" rx="4.8" ry="3.15"/></g><path d="M169.50,54.20 C168.47,54.40 165.42,54.55 163.30,55.40 C161.18,56.25 158.93,57.37 156.80,59.30 C154.67,61.23 151.55,65.72 150.50,67.00" fill="none" stroke="#111" stroke-width="3.3" stroke-linecap="round"/><path d="M101.20,103.00 C100.63,103.50 98.90,104.80 97.80,106.00 C96.70,107.20 95.57,108.48 94.60,110.20 C93.63,111.92 92.57,114.28 92.00,116.30 C91.43,118.32 91.05,120.22 91.20,122.30 C91.35,124.38 91.93,126.93 92.90,128.80 C93.87,130.67 95.15,131.90 97.00,133.50 C98.85,135.10 101.60,136.85 104.00,138.40 C106.40,139.95 109.47,141.40 111.40,142.80 C113.33,144.20 114.60,145.43 115.60,146.80 C116.60,148.17 117.07,149.30 117.40,151.00 C117.73,152.70 117.57,156.00 117.60,157.00" fill="none" stroke="#111" stroke-width="3.3" stroke-linecap="round"/><path d="M117.60,182.00 C117.67,183.30 117.47,187.05 118.00,189.80 C118.53,192.55 119.82,196.00 120.80,198.50 C121.78,201.00 123.10,202.30 123.90,204.80 C124.70,207.30 125.30,210.08 125.60,213.50 C125.90,216.92 125.65,221.75 125.70,225.30 C125.75,228.85 125.58,232.22 125.90,234.80 C126.22,237.38 126.75,239.42 127.60,240.80 C128.45,242.18 130.03,243.18 131.00,243.10 C131.97,243.02 132.87,242.60 133.40,240.30 C133.93,238.00 134.13,233.77 134.20,229.30 C134.27,224.83 133.98,218.38 133.80,213.50 C133.62,208.62 133.03,203.08 133.10,200.00 C133.17,196.92 133.67,196.10 134.20,195.00 C134.73,193.90 135.58,193.40 136.30,193.40 C137.02,193.40 137.95,193.62 138.50,195.00 C139.05,196.38 139.38,197.97 139.60,201.70 C139.82,205.43 139.70,212.15 139.80,217.40 C139.90,222.65 139.72,229.38 140.20,233.20 C140.68,237.02 141.63,238.72 142.70,240.30 C143.77,241.88 145.55,242.70 146.60,242.70 C147.65,242.70 148.58,243.20 149.00,240.30 C149.42,237.40 149.57,230.43 149.10,225.30 C148.63,220.17 146.83,213.88 146.20,209.50 C145.57,205.12 145.13,201.62 145.30,199.00 C145.47,196.38 146.17,194.92 147.20,193.80 C148.23,192.68 150.15,192.30 151.50,192.30 C152.85,192.30 154.28,192.23 155.30,193.80 C156.32,195.37 157.08,197.77 157.60,201.70 C158.12,205.63 158.32,212.35 158.40,217.40 C158.48,222.45 158.42,227.73 158.10,232.00 C157.78,236.27 157.43,239.92 156.50,243.00 C155.57,246.08 153.70,248.25 152.50,250.50 C151.30,252.75 149.85,254.92 149.30,256.50 C148.75,258.08 148.72,259.25 149.20,260.00 C149.68,260.75 150.73,261.07 152.20,261.00 C153.67,260.93 155.78,260.52 158.00,259.60 C160.22,258.68 163.37,256.93 165.50,255.50 C167.63,254.07 169.62,252.48 170.80,251.00 C171.98,249.52 172.47,248.13 172.60,246.60 C172.73,245.07 172.43,243.67 171.60,241.80 C170.77,239.93 168.80,237.73 167.60,235.40 C166.40,233.07 165.10,231.45 164.40,227.80 C163.70,224.15 163.55,218.05 163.40,213.50 C163.25,208.95 163.13,203.62 163.50,200.50 C163.87,197.38 164.68,196.02 165.60,194.80 C166.52,193.58 167.83,193.23 169.00,193.20 C170.17,193.17 171.55,193.43 172.60,194.60 C173.65,195.77 174.65,197.05 175.30,200.20 C175.95,203.35 176.22,208.12 176.50,213.50 C176.78,218.88 176.68,228.25 177.00,232.50 C177.32,236.75 177.60,237.43 178.40,239.00 C179.20,240.57 179.65,241.25 181.80,241.90 C183.95,242.55 188.48,242.42 191.30,242.90 C194.12,243.38 197.05,243.85 198.70,244.80 C200.35,245.75 201.02,247.20 201.20,248.60 C201.38,250.00 201.13,251.72 199.80,253.20 C198.47,254.68 196.17,255.70 193.20,257.50 C190.23,259.30 185.45,262.00 182.00,264.00 C178.55,266.00 174.08,268.58 172.50,269.50" fill="none" stroke="#111" stroke-width="3.3" stroke-linecap="round" stroke-linejoin="round"/><g transform="translate(125.4,85.9) rotate(-35.4)"><ellipse cx="0" cy="0" rx="30.4" ry="4.8" fill="url(#gPTX)" stroke="#2a1515" stroke-width="0.7"/></g><g transform="translate(176.8,49.1) rotate(-43.5)"><rect x="-8.8" y="-5.3" width="17.6" height="10.6" rx="2.4" fill="url(#gHA)" stroke="#2a2a2a" stroke-width="0.8"/></g><ellipse cx="117.6" cy="169.5" rx="7.3" ry="13.5" fill="#2c3189" stroke="#111" stroke-width="0.6"/><ellipse cx="117.7" cy="175.2" rx="5.9" ry="7.9" fill="url(#gGreen)" stroke="#111" stroke-width="0.5"/><g transform="translate(163.0,271.2) rotate(-15)"><rect x="-8" y="-4.6" width="16" height="9.2" fill="url(#gFLAG)" stroke="#1d2b3d" stroke-width="0.6"/></g></g>
<text x="0" y="0" font-size="24.8" font-weight="bold" fill="#000" transform="translate(9.60,342.90) scale(0.92,1)">Di</text>
<text x="0" y="0" font-size="24.8" font-weight="bold" fill="#000" transform="translate(8.70,547.70) scale(0.92,1)">Ei</text>
<text x="0" y="0" font-size="24.8" font-weight="bold" fill="#000" transform="translate(10.20,753.20) scale(0.92,1)">Fi</text>
<g transform="translate(47.8,394.9) rotate(-46.4)" stroke="#4da64a" stroke-width="3.1" fill="none" stroke-linejoin="miter"><polyline points="-16.26,-9.47 -2.75,0.00 -2.75,28.50"/><polyline points="16.26,-9.47 2.75,0.00 2.75,28.50"/><line x1="-19.26" y1="-6.07" x2="-7.46" y2="2.19"/><line x1="19.26" y1="-6.07" x2="7.46" y2="2.19"/></g>
<g transform="translate(79.2,576.5) rotate(-46.4)" stroke="#5b98dc" stroke-width="3.1" fill="none" stroke-linejoin="miter"><polyline points="-16.26,-9.47 -2.75,0.00 -2.75,28.50"/><polyline points="16.26,-9.47 2.75,0.00 2.75,28.50"/><line x1="-19.26" y1="-6.07" x2="-7.46" y2="2.19"/><line x1="19.26" y1="-6.07" x2="7.46" y2="2.19"/></g>
<g transform="translate(95.65,837.2) rotate(-170.3)" stroke="#d0762f" stroke-width="3.1" fill="none" stroke-linejoin="miter"><polyline points="-16.26,-9.47 -2.75,0.00 -2.75,28.50"/><polyline points="16.26,-9.47 2.75,0.00 2.75,28.50"/><line x1="-19.26" y1="-6.07" x2="-7.46" y2="2.19"/><line x1="19.26" y1="-6.07" x2="7.46" y2="2.19"/></g>
<text x="50.40" y="439.40" font-size="15.4" font-weight="bold" fill="#111">8E3E8</text>
<text x="81.50" y="625.30" font-size="15.5" font-weight="bold" fill="#111">α-HA</text>
<text x="65.00" y="793.20" font-size="15.5" font-weight="bold" fill="#111">α-FLAG</text>
<line x1="90.9" y1="854.0" x2="90.9" y2="905" stroke="#cc2229" stroke-width="1.7" stroke-dasharray="4.6,2.8"/>
<polygon points="86.6,903.6 95.2,903.6 90.9,914.8" fill="#cc2229"/>
<g stroke="#cc2229" stroke-width="2.4"><line x1="86.4" y1="875.6" x2="95.6" y2="890.6"/><line x1="95.6" y1="875.6" x2="86.4" y2="890.6"/></g>
<polyline points="209.10,467.54 250.47,468.23 291.84,467.54 333.21,466.85" fill="none" stroke="#93abe2" stroke-width="1.5" stroke-dasharray="3.2,2.6"/><polyline points="209.10,466.85 250.47,442.10 291.84,425.60 333.21,416.66" fill="none" stroke="#3b3f9c" stroke-width="1.5"/><polyline points="209.10,467.54 250.47,467.54 291.84,468.23 333.21,467.54" fill="none" stroke="#8a8a8a" stroke-width="1.5" stroke-dasharray="3.2,2.6"/><polyline points="209.10,466.85 250.47,465.20 291.84,467.81 333.21,466.16" fill="none" stroke="#111" stroke-width="1.5"/><path d="M209.10,466.16V468.91M205.70,466.16h6.8M205.70,468.91h6.8" stroke="#93abe2" stroke-width="1.4" fill="none"/><path d="M250.47,463.41V473.04M247.07,463.41h6.8M247.07,473.04h6.8" stroke="#93abe2" stroke-width="1.4" fill="none"/><path d="M291.84,461.35V473.73M288.44,461.35h6.8M288.44,473.73h6.8" stroke="#93abe2" stroke-width="1.4" fill="none"/><path d="M333.21,462.73V470.98M329.81,462.73h6.8M329.81,470.98h6.8" stroke="#93abe2" stroke-width="1.4" fill="none"/><polygon points="209.10,464.29 212.03,467.54 209.10,470.79 206.17,467.54" fill="#93abe2" stroke="#93abe2" stroke-width="0.5"/><polygon points="250.47,464.98 253.40,468.23 250.47,471.48 247.54,468.23" fill="#93abe2" stroke="#93abe2" stroke-width="0.5"/><polygon points="291.84,464.29 294.76,467.54 291.84,470.79 288.91,467.54" fill="#93abe2" stroke="#93abe2" stroke-width="0.5"/><polygon points="333.21,463.60 336.13,466.85 333.21,470.10 330.28,466.85" fill="#93abe2" stroke="#93abe2" stroke-width="0.5"/><path d="M209.10,465.75V467.95M205.70,465.75h6.8M205.70,467.95h6.8" stroke="#3b3f9c" stroke-width="1.4" fill="none"/><path d="M250.47,429.45V454.75M247.07,429.45h6.8M247.07,454.75h6.8" stroke="#3b3f9c" stroke-width="1.4" fill="none"/><path d="M291.84,410.34V440.86M288.44,410.34h6.8M288.44,440.86h6.8" stroke="#3b3f9c" stroke-width="1.4" fill="none"/><path d="M333.21,394.66V438.66M329.81,394.66h6.8M329.81,438.66h6.8" stroke="#3b3f9c" stroke-width="1.4" fill="none"/><polygon points="206.00,464.25 212.20,464.25 209.10,469.95" fill="#3b3f9c" stroke="#3b3f9c" stroke-width="0.8"/><polygon points="247.37,439.50 253.57,439.50 250.47,445.20" fill="#3b3f9c" stroke="#3b3f9c" stroke-width="0.8"/><polygon points="288.74,423.00 294.94,423.00 291.84,428.70" fill="#3b3f9c" stroke="#3b3f9c" stroke-width="0.8"/><polygon points="330.11,414.06 336.31,414.06 333.21,419.76" fill="#3b3f9c" stroke="#3b3f9c" stroke-width="0.8"/><path d="M209.10,466.85V468.23M205.70,466.85h6.8M205.70,468.23h6.8" stroke="#8a8a8a" stroke-width="1.4" fill="none"/><path d="M250.47,463.41V471.66M247.07,463.41h6.8M247.07,471.66h6.8" stroke="#8a8a8a" stroke-width="1.4" fill="none"/><path d="M291.84,466.16V470.29M288.44,466.16h6.8M288.44,470.29h6.8" stroke="#8a8a8a" stroke-width="1.4" fill="none"/><path d="M333.21,464.10V470.98M329.81,464.10h6.8M329.81,470.98h6.8" stroke="#8a8a8a" stroke-width="1.4" fill="none"/><polygon points="209.10,464.29 212.03,467.54 209.10,470.79 206.17,467.54" fill="none" stroke="#8a8a8a" stroke-width="1.2"/><polygon points="250.47,464.29 253.40,467.54 250.47,470.79 247.54,467.54" fill="none" stroke="#8a8a8a" stroke-width="1.2"/><polygon points="291.84,464.98 294.76,468.23 291.84,471.48 288.91,468.23" fill="none" stroke="#8a8a8a" stroke-width="1.2"/><polygon points="333.21,464.29 336.13,467.54 333.21,470.79 330.28,467.54" fill="none" stroke="#8a8a8a" stroke-width="1.2"/><path d="M209.10,466.16V467.54M205.70,466.16h6.8M205.70,467.54h6.8" stroke="#111" stroke-width="1.4" fill="none"/><path d="M250.47,461.08V469.33M247.07,461.08h6.8M247.07,469.33h6.8" stroke="#111" stroke-width="1.4" fill="none"/><path d="M291.84,465.75V469.88M288.44,465.75h6.8M288.44,469.88h6.8" stroke="#111" stroke-width="1.4" fill="none"/><path d="M333.21,463.41V468.91M329.81,463.41h6.8M329.81,468.91h6.8" stroke="#111" stroke-width="1.4" fill="none"/><polygon points="205.90,464.16 212.30,464.16 209.10,470.05" fill="none" stroke="#111" stroke-width="1.3"/><polygon points="247.27,462.51 253.67,462.51 250.47,468.40" fill="none" stroke="#111" stroke-width="1.3"/><polygon points="288.64,465.12 295.04,465.12 291.84,471.01" fill="none" stroke="#111" stroke-width="1.3"/><polygon points="330.01,463.47 336.41,463.47 333.21,469.36" fill="none" stroke="#111" stroke-width="1.3"/><g stroke="#1f1f1f" stroke-width="1.6" fill="none"><line x1="188.4" y1="369.8" x2="188.4" y2="480.6"/><line x1="183.8" y1="480.60" x2="188.4" y2="480.60"/><line x1="183.8" y1="453.10" x2="188.4" y2="453.10"/><line x1="183.8" y1="425.60" x2="188.4" y2="425.60"/><line x1="183.8" y1="398.10" x2="188.4" y2="398.10"/><line x1="183.8" y1="370.60" x2="188.4" y2="370.60"/><line x1="183.8" y1="480.6" x2="354.5" y2="480.6"/><line x1="209.10" y1="480.6" x2="209.10" y2="485.20000000000005"/><line x1="250.47" y1="480.6" x2="250.47" y2="485.20000000000005"/><line x1="291.84" y1="480.6" x2="291.84" y2="485.20000000000005"/><line x1="333.21" y1="480.6" x2="333.21" y2="485.20000000000005"/></g><text x="182.60" y="484.80" font-size="12" font-weight="bold" text-anchor="end" fill="#222">0</text><text x="182.60" y="457.30" font-size="12" font-weight="bold" text-anchor="end" fill="#222">2</text><text x="182.60" y="429.80" font-size="12" font-weight="bold" text-anchor="end" fill="#222">4</text><text x="182.60" y="402.30" font-size="12" font-weight="bold" text-anchor="end" fill="#222">6</text><text x="182.60" y="374.80" font-size="12" font-weight="bold" text-anchor="end" fill="#222">8</text><text x="209.10" y="497.60" font-size="12" font-weight="bold" text-anchor="middle" fill="#222">0</text><text x="250.47" y="497.60" font-size="12" font-weight="bold" text-anchor="middle" fill="#222">0.18</text><text x="291.84" y="497.60" font-size="12" font-weight="bold" text-anchor="middle" fill="#222">0.7</text><text x="333.21" y="497.60" font-size="12" font-weight="bold" text-anchor="middle" fill="#222">1.8</text><text x="275.50" y="518.10" font-size="14" font-weight="bold" text-anchor="middle" fill="#222">8E3E8 (µg/ml)</text>
<polyline points="459.30,432.63 500.53,429.11 541.76,429.11 582.99,430.43" fill="none" stroke="#93abe2" stroke-width="1.5" stroke-dasharray="3.2,2.6"/><polyline points="459.30,432.63 500.53,422.94 541.76,411.04 582.99,408.39" fill="none" stroke="#3b3f9c" stroke-width="1.5"/><polyline points="459.30,475.39 500.53,475.83 541.76,475.83 582.99,475.83" fill="none" stroke="#8a8a8a" stroke-width="1.5" stroke-dasharray="3.2,2.6"/><polyline points="459.30,475.17 500.53,476.49 541.76,476.71 582.99,476.49" fill="none" stroke="#111" stroke-width="1.5"/><path d="M500.53,417.21V441.01M497.13,417.21h6.8M497.13,441.01h6.8" stroke="#93abe2" stroke-width="1.4" fill="none"/><path d="M541.76,414.12V444.10M538.36,414.12h6.8M538.36,444.10h6.8" stroke="#93abe2" stroke-width="1.4" fill="none"/><path d="M582.99,415.00V445.86M579.59,415.00h6.8M579.59,445.86h6.8" stroke="#93abe2" stroke-width="1.4" fill="none"/><polygon points="459.30,429.38 462.23,432.63 459.30,435.88 456.38,432.63" fill="#93abe2" stroke="#93abe2" stroke-width="0.5"/><polygon points="500.53,425.86 503.46,429.11 500.53,432.36 497.61,429.11" fill="#93abe2" stroke="#93abe2" stroke-width="0.5"/><polygon points="541.76,425.86 544.68,429.11 541.76,432.36 538.84,429.11" fill="#93abe2" stroke="#93abe2" stroke-width="0.5"/><polygon points="582.99,427.18 585.91,430.43 582.99,433.68 580.07,430.43" fill="#93abe2" stroke="#93abe2" stroke-width="0.5"/><path d="M459.30,417.21V448.06M455.90,417.21h6.8M455.90,448.06h6.8" stroke="#3b3f9c" stroke-width="1.4" fill="none"/><path d="M500.53,414.12V431.75M497.13,414.12h6.8M497.13,431.75h6.8" stroke="#3b3f9c" stroke-width="1.4" fill="none"/><path d="M541.76,401.12V420.95M538.36,401.12h6.8M538.36,420.95h6.8" stroke="#3b3f9c" stroke-width="1.4" fill="none"/><path d="M582.99,389.88V426.90M579.59,389.88h6.8M579.59,426.90h6.8" stroke="#3b3f9c" stroke-width="1.4" fill="none"/><polygon points="456.20,430.03 462.40,430.03 459.30,435.73" fill="#3b3f9c" stroke="#3b3f9c" stroke-width="0.8"/><polygon points="497.43,420.33 503.63,420.33 500.53,426.04" fill="#3b3f9c" stroke="#3b3f9c" stroke-width="0.8"/><polygon points="538.66,408.43 544.86,408.43 541.76,414.14" fill="#3b3f9c" stroke="#3b3f9c" stroke-width="0.8"/><polygon points="579.89,405.79 586.09,405.79 582.99,411.49" fill="#3b3f9c" stroke="#3b3f9c" stroke-width="0.8"/><polygon points="459.30,472.14 462.23,475.39 459.30,478.64 456.38,475.39" fill="none" stroke="#8a8a8a" stroke-width="1.2"/><polygon points="500.53,472.58 503.46,475.83 500.53,479.08 497.61,475.83" fill="none" stroke="#8a8a8a" stroke-width="1.2"/><polygon points="541.76,472.58 544.68,475.83 541.76,479.08 538.84,475.83" fill="none" stroke="#8a8a8a" stroke-width="1.2"/><polygon points="582.99,472.58 585.91,475.83 582.99,479.08 580.07,475.83" fill="none" stroke="#8a8a8a" stroke-width="1.2"/><polygon points="456.10,472.48 462.50,472.48 459.30,478.37" fill="none" stroke="#111" stroke-width="1.3"/><polygon points="497.33,473.81 503.73,473.81 500.53,479.69" fill="none" stroke="#111" stroke-width="1.3"/><polygon points="538.56,474.03 544.96,474.03 541.76,479.91" fill="none" stroke="#111" stroke-width="1.3"/><polygon points="579.79,473.81 586.19,473.81 582.99,479.69" fill="none" stroke="#111" stroke-width="1.3"/><g stroke="#1f1f1f" stroke-width="1.6" fill="none"><line x1="438.1" y1="368.8" x2="438.1" y2="479.8"/><line x1="433.5" y1="479.80" x2="438.1" y2="479.80"/><line x1="433.5" y1="457.76" x2="438.1" y2="457.76"/><line x1="433.5" y1="435.72" x2="438.1" y2="435.72"/><line x1="433.5" y1="413.68" x2="438.1" y2="413.68"/><line x1="433.5" y1="391.64" x2="438.1" y2="391.64"/><line x1="433.5" y1="369.60" x2="438.1" y2="369.60"/><line x1="433.5" y1="479.8" x2="603.9" y2="479.8"/><line x1="459.30" y1="479.8" x2="459.30" y2="484.40000000000003"/><line x1="500.53" y1="479.8" x2="500.53" y2="484.40000000000003"/><line x1="541.76" y1="479.8" x2="541.76" y2="484.40000000000003"/><line x1="582.99" y1="479.8" x2="582.99" y2="484.40000000000003"/></g><text x="432.30" y="484.00" font-size="12" font-weight="bold" text-anchor="end" fill="#222">0</text><text x="432.30" y="461.96" font-size="12" font-weight="bold" text-anchor="end" fill="#222">5</text><text x="432.30" y="439.92" font-size="12" font-weight="bold" text-anchor="end" fill="#222">10</text><text x="432.30" y="417.88" font-size="12" font-weight="bold" text-anchor="end" fill="#222">15</text><text x="432.30" y="395.84" font-size="12" font-weight="bold" text-anchor="end" fill="#222">20</text><text x="432.30" y="373.80" font-size="12" font-weight="bold" text-anchor="end" fill="#222">25</text><text x="459.30" y="496.80" font-size="12" font-weight="bold" text-anchor="middle" fill="#222">0</text><text x="500.53" y="496.80" font-size="12" font-weight="bold" text-anchor="middle" fill="#222">0.18</text><text x="541.76" y="496.80" font-size="12" font-weight="bold" text-anchor="middle" fill="#222">0.7</text><text x="582.99" y="496.80" font-size="12" font-weight="bold" text-anchor="middle" fill="#222">1.8</text><text x="529.50" y="517.30" font-size="14" font-weight="bold" text-anchor="middle" fill="#222">8E3E8 (µg/ml)</text>
<polyline points="209.10,667.11 250.47,667.80 291.84,668.49 333.21,670.55" fill="none" stroke="#93abe2" stroke-width="1.5" stroke-dasharray="3.2,2.6"/><polyline points="209.10,666.42 250.47,610.05 291.84,610.05 333.21,604.55" fill="none" stroke="#3b3f9c" stroke-width="1.5"/><polyline points="209.10,671.24 250.47,668.49 291.84,669.86 333.21,669.86" fill="none" stroke="#8a8a8a" stroke-width="1.5" stroke-dasharray="3.2,2.6"/><polyline points="209.10,670.55 250.47,667.11 291.84,668.49 333.21,667.80" fill="none" stroke="#111" stroke-width="1.5"/><path d="M209.10,665.74V668.49M205.70,665.74h6.8M205.70,668.49h6.8" stroke="#93abe2" stroke-width="1.4" fill="none"/><path d="M250.47,666.42V669.17M247.07,666.42h6.8M247.07,669.17h6.8" stroke="#93abe2" stroke-width="1.4" fill="none"/><path d="M291.84,667.11V669.86M288.44,667.11h6.8M288.44,669.86h6.8" stroke="#93abe2" stroke-width="1.4" fill="none"/><path d="M333.21,669.17V671.92M329.81,669.17h6.8M329.81,671.92h6.8" stroke="#93abe2" stroke-width="1.4" fill="none"/><polygon points="209.10,663.86 212.03,667.11 209.10,670.36 206.17,667.11" fill="#93abe2" stroke="#93abe2" stroke-width="0.5"/><polygon points="250.47,664.55 253.40,667.80 250.47,671.05 247.54,667.80" fill="#93abe2" stroke="#93abe2" stroke-width="0.5"/><polygon points="291.84,665.24 294.76,668.49 291.84,671.74 288.91,668.49" fill="#93abe2" stroke="#93abe2" stroke-width="0.5"/><polygon points="333.21,667.30 336.13,670.55 333.21,673.80 330.28,670.55" fill="#93abe2" stroke="#93abe2" stroke-width="0.5"/><path d="M209.10,664.36V668.49M205.70,664.36h6.8M205.70,668.49h6.8" stroke="#3b3f9c" stroke-width="1.4" fill="none"/><path d="M250.47,603.86V616.24M247.07,603.86h6.8M247.07,616.24h6.8" stroke="#3b3f9c" stroke-width="1.4" fill="none"/><path d="M291.84,603.17V616.92M288.44,603.17h6.8M288.44,616.92h6.8" stroke="#3b3f9c" stroke-width="1.4" fill="none"/><path d="M333.21,590.80V618.30M329.81,590.80h6.8M329.81,618.30h6.8" stroke="#3b3f9c" stroke-width="1.4" fill="none"/><polygon points="206.00,663.82 212.20,663.82 209.10,669.52" fill="#3b3f9c" stroke="#3b3f9c" stroke-width="0.8"/><polygon points="247.37,607.45 253.57,607.45 250.47,613.15" fill="#3b3f9c" stroke="#3b3f9c" stroke-width="0.8"/><polygon points="288.74,607.45 294.94,607.45 291.84,613.15" fill="#3b3f9c" stroke="#3b3f9c" stroke-width="0.8"/><polygon points="330.11,601.95 336.31,601.95 333.21,607.65" fill="#3b3f9c" stroke="#3b3f9c" stroke-width="0.8"/><path d="M209.10,670.55V671.92M205.70,670.55h6.8M205.70,671.92h6.8" stroke="#8a8a8a" stroke-width="1.4" fill="none"/><path d="M250.47,667.11V669.86M247.07,667.11h6.8M247.07,669.86h6.8" stroke="#8a8a8a" stroke-width="1.4" fill="none"/><path d="M291.84,668.49V671.24M288.44,668.49h6.8M288.44,671.24h6.8" stroke="#8a8a8a" stroke-width="1.4" fill="none"/><path d="M333.21,668.49V671.24M329.81,668.49h6.8M329.81,671.24h6.8" stroke="#8a8a8a" stroke-width="1.4" fill="none"/><polygon points="209.10,667.99 212.03,671.24 209.10,674.49 206.17,671.24" fill="none" stroke="#8a8a8a" stroke-width="1.2"/><polygon points="250.47,665.24 253.40,668.49 250.47,671.74 247.54,668.49" fill="none" stroke="#8a8a8a" stroke-width="1.2"/><polygon points="291.84,666.61 294.76,669.86 291.84,673.11 288.91,669.86" fill="none" stroke="#8a8a8a" stroke-width="1.2"/><polygon points="333.21,666.61 336.13,669.86 333.21,673.11 330.28,669.86" fill="none" stroke="#8a8a8a" stroke-width="1.2"/><path d="M209.10,669.86V671.24M205.70,669.86h6.8M205.70,671.24h6.8" stroke="#111" stroke-width="1.4" fill="none"/><path d="M250.47,665.74V668.49M247.07,665.74h6.8M247.07,668.49h6.8" stroke="#111" stroke-width="1.4" fill="none"/><path d="M291.84,667.11V669.86M288.44,667.11h6.8M288.44,669.86h6.8" stroke="#111" stroke-width="1.4" fill="none"/><path d="M333.21,666.42V669.17M329.81,666.42h6.8M329.81,669.17h6.8" stroke="#111" stroke-width="1.4" fill="none"/><polygon points="205.90,667.86 212.30,667.86 209.10,673.75" fill="none" stroke="#111" stroke-width="1.3"/><polygon points="247.27,664.42 253.67,664.42 250.47,670.31" fill="none" stroke="#111" stroke-width="1.3"/><polygon points="288.64,665.80 295.04,665.80 291.84,671.69" fill="none" stroke="#111" stroke-width="1.3"/><polygon points="330.01,665.11 336.41,665.11 333.21,671.00" fill="none" stroke="#111" stroke-width="1.3"/><g stroke="#1f1f1f" stroke-width="1.6" fill="none"><line x1="188.4" y1="573.5" x2="188.4" y2="684.3"/><line x1="183.8" y1="684.30" x2="188.4" y2="684.30"/><line x1="183.8" y1="656.80" x2="188.4" y2="656.80"/><line x1="183.8" y1="629.30" x2="188.4" y2="629.30"/><line x1="183.8" y1="601.80" x2="188.4" y2="601.80"/><line x1="183.8" y1="574.30" x2="188.4" y2="574.30"/><line x1="183.8" y1="684.3" x2="353.3" y2="684.3"/><line x1="209.10" y1="684.3" x2="209.10" y2="688.9"/><line x1="250.47" y1="684.3" x2="250.47" y2="688.9"/><line x1="291.84" y1="684.3" x2="291.84" y2="688.9"/><line x1="333.21" y1="684.3" x2="333.21" y2="688.9"/></g><text x="182.60" y="688.50" font-size="12" font-weight="bold" text-anchor="end" fill="#222">0</text><text x="182.60" y="661.00" font-size="12" font-weight="bold" text-anchor="end" fill="#222">2</text><text x="182.60" y="633.50" font-size="12" font-weight="bold" text-anchor="end" fill="#222">4</text><text x="182.60" y="606.00" font-size="12" font-weight="bold" text-anchor="end" fill="#222">6</text><text x="182.60" y="578.50" font-size="12" font-weight="bold" text-anchor="end" fill="#222">8</text><text x="209.10" y="701.30" font-size="12" font-weight="bold" text-anchor="middle" fill="#222">0</text><text x="250.47" y="701.30" font-size="12" font-weight="bold" text-anchor="middle" fill="#222">1</text><text x="291.84" y="701.30" font-size="12" font-weight="bold" text-anchor="middle" fill="#222">4</text><text x="333.21" y="701.30" font-size="12" font-weight="bold" text-anchor="middle" fill="#222">10</text><text x="275.50" y="721.80" font-size="14" font-weight="bold" text-anchor="middle" fill="#222">α-HA (µg/ml)</text>
<polyline points="459.30,645.23 500.53,645.23 541.76,649.32 582.99,646.04" fill="none" stroke="#93abe2" stroke-width="1.5" stroke-dasharray="3.2,2.6"/><polyline points="459.30,645.23 500.53,634.84 541.76,628.56 582.99,617.08" fill="none" stroke="#3b3f9c" stroke-width="1.5"/><polyline points="459.30,681.57 500.53,680.47 541.76,680.47 582.99,681.02" fill="none" stroke="#8a8a8a" stroke-width="1.5" stroke-dasharray="3.2,2.6"/><polyline points="459.30,681.57 500.53,680.20 541.76,680.20 582.99,680.75" fill="none" stroke="#111" stroke-width="1.5"/><path d="M500.53,632.93V657.52M497.13,632.93h6.8M497.13,657.52h6.8" stroke="#93abe2" stroke-width="1.4" fill="none"/><path d="M541.76,640.31V658.34M538.36,640.31h6.8M538.36,658.34h6.8" stroke="#93abe2" stroke-width="1.4" fill="none"/><path d="M582.99,633.75V658.34M579.59,633.75h6.8M579.59,658.34h6.8" stroke="#93abe2" stroke-width="1.4" fill="none"/><polygon points="459.30,641.98 462.23,645.23 459.30,648.48 456.38,645.23" fill="#93abe2" stroke="#93abe2" stroke-width="0.5"/><polygon points="500.53,641.98 503.46,645.23 500.53,648.48 497.61,645.23" fill="#93abe2" stroke="#93abe2" stroke-width="0.5"/><polygon points="541.76,646.07 544.68,649.32 541.76,652.57 538.84,649.32" fill="#93abe2" stroke="#93abe2" stroke-width="0.5"/><polygon points="582.99,642.79 585.91,646.04 582.99,649.29 580.07,646.04" fill="#93abe2" stroke="#93abe2" stroke-width="0.5"/><path d="M459.30,627.19V663.26M455.90,627.19h6.8M455.90,663.26h6.8" stroke="#3b3f9c" stroke-width="1.4" fill="none"/><path d="M500.53,618.99V650.69M497.13,618.99h6.8M497.13,650.69h6.8" stroke="#3b3f9c" stroke-width="1.4" fill="none"/><path d="M541.76,612.71V644.41M538.36,612.71h6.8M538.36,644.41h6.8" stroke="#3b3f9c" stroke-width="1.4" fill="none"/><path d="M582.99,587.57V646.59M579.59,587.57h6.8M579.59,646.59h6.8" stroke="#3b3f9c" stroke-width="1.4" fill="none"/><polygon points="456.20,642.62 462.40,642.62 459.30,648.33" fill="#3b3f9c" stroke="#3b3f9c" stroke-width="0.8"/><polygon points="497.43,632.24 503.63,632.24 500.53,637.94" fill="#3b3f9c" stroke="#3b3f9c" stroke-width="0.8"/><polygon points="538.66,625.95 544.86,625.95 541.76,631.66" fill="#3b3f9c" stroke="#3b3f9c" stroke-width="0.8"/><polygon points="579.89,614.48 586.09,614.48 582.99,620.18" fill="#3b3f9c" stroke="#3b3f9c" stroke-width="0.8"/><polygon points="459.30,678.32 462.23,681.57 459.30,684.82 456.38,681.57" fill="none" stroke="#8a8a8a" stroke-width="1.2"/><polygon points="500.53,677.22 503.46,680.47 500.53,683.72 497.61,680.47" fill="none" stroke="#8a8a8a" stroke-width="1.2"/><polygon points="541.76,677.22 544.68,680.47 541.76,683.72 538.84,680.47" fill="none" stroke="#8a8a8a" stroke-width="1.2"/><polygon points="582.99,677.77 585.91,681.02 582.99,684.27 580.07,681.02" fill="none" stroke="#8a8a8a" stroke-width="1.2"/><polygon points="456.10,678.88 462.50,678.88 459.30,684.77" fill="none" stroke="#111" stroke-width="1.3"/><polygon points="497.33,677.51 503.73,677.51 500.53,683.40" fill="none" stroke="#111" stroke-width="1.3"/><polygon points="538.56,677.51 544.96,677.51 541.76,683.40" fill="none" stroke="#111" stroke-width="1.3"/><polygon points="579.79,678.06 586.19,678.06 582.99,683.95" fill="none" stroke="#111" stroke-width="1.3"/><g stroke="#1f1f1f" stroke-width="1.6" fill="none"><line x1="438.1" y1="574.2" x2="438.1" y2="684.3"/><line x1="433.5" y1="684.30" x2="438.1" y2="684.30"/><line x1="433.5" y1="656.97" x2="438.1" y2="656.97"/><line x1="433.5" y1="629.65" x2="438.1" y2="629.65"/><line x1="433.5" y1="602.33" x2="438.1" y2="602.33"/><line x1="433.5" y1="575.00" x2="438.1" y2="575.00"/><line x1="433.5" y1="684.3" x2="604.3" y2="684.3"/><line x1="459.30" y1="684.3" x2="459.30" y2="688.9"/><line x1="500.53" y1="684.3" x2="500.53" y2="688.9"/><line x1="541.76" y1="684.3" x2="541.76" y2="688.9"/><line x1="582.99" y1="684.3" x2="582.99" y2="688.9"/></g><text x="432.30" y="688.50" font-size="12" font-weight="bold" text-anchor="end" fill="#222">0</text><text x="432.30" y="661.17" font-size="12" font-weight="bold" text-anchor="end" fill="#222">10</text><text x="432.30" y="633.85" font-size="12" font-weight="bold" text-anchor="end" fill="#222">20</text><text x="432.30" y="606.53" font-size="12" font-weight="bold" text-anchor="end" fill="#222">30</text><text x="432.30" y="579.20" font-size="12" font-weight="bold" text-anchor="end" fill="#222">40</text><text x="459.30" y="701.30" font-size="12" font-weight="bold" text-anchor="middle" fill="#222">0</text><text x="500.53" y="701.30" font-size="12" font-weight="bold" text-anchor="middle" fill="#222">1</text><text x="541.76" y="701.30" font-size="12" font-weight="bold" text-anchor="middle" fill="#222">4</text><text x="582.99" y="701.30" font-size="12" font-weight="bold" text-anchor="middle" fill="#222">10</text><text x="525.20" y="721.80" font-size="14" font-weight="bold" text-anchor="middle" fill="#222">α-HA (µg/ml)</text>
<polyline points="209.10,877.38 250.47,876.00 291.84,877.38 333.21,875.31" fill="none" stroke="#93abe2" stroke-width="1.5" stroke-dasharray="3.2,2.6"/><polyline points="209.10,876.00 250.47,870.50 291.84,869.12 333.21,865.00" fill="none" stroke="#3b3f9c" stroke-width="1.5"/><polyline points="209.10,879.44 250.47,877.38 291.84,878.06 333.21,877.38" fill="none" stroke="#8a8a8a" stroke-width="1.5" stroke-dasharray="3.2,2.6"/><polyline points="209.10,878.75 250.47,876.69 291.84,878.06 333.21,876.69" fill="none" stroke="#111" stroke-width="1.5"/><path d="M209.10,876.00V878.75M205.70,876.00h6.8M205.70,878.75h6.8" stroke="#93abe2" stroke-width="1.4" fill="none"/><path d="M250.47,873.25V878.75M247.07,873.25h6.8M247.07,878.75h6.8" stroke="#93abe2" stroke-width="1.4" fill="none"/><path d="M291.84,875.31V879.44M288.44,875.31h6.8M288.44,879.44h6.8" stroke="#93abe2" stroke-width="1.4" fill="none"/><path d="M333.21,871.19V879.44M329.81,871.19h6.8M329.81,879.44h6.8" stroke="#93abe2" stroke-width="1.4" fill="none"/><polygon points="209.10,874.12 212.03,877.38 209.10,880.62 206.17,877.38" fill="#93abe2" stroke="#93abe2" stroke-width="0.5"/><polygon points="250.47,872.75 253.40,876.00 250.47,879.25 247.54,876.00" fill="#93abe2" stroke="#93abe2" stroke-width="0.5"/><polygon points="291.84,874.12 294.76,877.38 291.84,880.62 288.91,877.38" fill="#93abe2" stroke="#93abe2" stroke-width="0.5"/><polygon points="333.21,872.06 336.13,875.31 333.21,878.56 330.28,875.31" fill="#93abe2" stroke="#93abe2" stroke-width="0.5"/><path d="M209.10,873.94V878.06M205.70,873.94h6.8M205.70,878.06h6.8" stroke="#3b3f9c" stroke-width="1.4" fill="none"/><path d="M250.47,866.38V874.62M247.07,866.38h6.8M247.07,874.62h6.8" stroke="#3b3f9c" stroke-width="1.4" fill="none"/><path d="M291.84,865.00V873.25M288.44,865.00h6.8M288.44,873.25h6.8" stroke="#3b3f9c" stroke-width="1.4" fill="none"/><path d="M333.21,859.50V870.50M329.81,859.50h6.8M329.81,870.50h6.8" stroke="#3b3f9c" stroke-width="1.4" fill="none"/><polygon points="206.00,873.40 212.20,873.40 209.10,879.10" fill="#3b3f9c" stroke="#3b3f9c" stroke-width="0.8"/><polygon points="247.37,867.90 253.57,867.90 250.47,873.60" fill="#3b3f9c" stroke="#3b3f9c" stroke-width="0.8"/><polygon points="288.74,866.52 294.94,866.52 291.84,872.23" fill="#3b3f9c" stroke="#3b3f9c" stroke-width="0.8"/><polygon points="330.11,862.40 336.31,862.40 333.21,868.10" fill="#3b3f9c" stroke="#3b3f9c" stroke-width="0.8"/><path d="M209.10,878.75V880.12M205.70,878.75h6.8M205.70,880.12h6.8" stroke="#8a8a8a" stroke-width="1.4" fill="none"/><path d="M250.47,874.62V880.12M247.07,874.62h6.8M247.07,880.12h6.8" stroke="#8a8a8a" stroke-width="1.4" fill="none"/><path d="M291.84,876.69V879.44M288.44,876.69h6.8M288.44,879.44h6.8" stroke="#8a8a8a" stroke-width="1.4" fill="none"/><path d="M333.21,873.94V880.81M329.81,873.94h6.8M329.81,880.81h6.8" stroke="#8a8a8a" stroke-width="1.4" fill="none"/><polygon points="209.10,876.19 212.03,879.44 209.10,882.69 206.17,879.44" fill="none" stroke="#8a8a8a" stroke-width="1.2"/><polygon points="250.47,874.12 253.40,877.38 250.47,880.62 247.54,877.38" fill="none" stroke="#8a8a8a" stroke-width="1.2"/><polygon points="291.84,874.81 294.76,878.06 291.84,881.31 288.91,878.06" fill="none" stroke="#8a8a8a" stroke-width="1.2"/><polygon points="333.21,874.12 336.13,877.38 333.21,880.62 330.28,877.38" fill="none" stroke="#8a8a8a" stroke-width="1.2"/><path d="M209.10,877.38V880.12M205.70,877.38h6.8M205.70,880.12h6.8" stroke="#111" stroke-width="1.4" fill="none"/><path d="M250.47,873.25V880.12M247.07,873.25h6.8M247.07,880.12h6.8" stroke="#111" stroke-width="1.4" fill="none"/><path d="M291.84,876.00V880.12M288.44,876.00h6.8M288.44,880.12h6.8" stroke="#111" stroke-width="1.4" fill="none"/><path d="M333.21,872.56V880.81M329.81,872.56h6.8M329.81,880.81h6.8" stroke="#111" stroke-width="1.4" fill="none"/><polygon points="205.90,876.06 212.30,876.06 209.10,881.95" fill="none" stroke="#111" stroke-width="1.3"/><polygon points="247.27,874.00 253.67,874.00 250.47,879.89" fill="none" stroke="#111" stroke-width="1.3"/><polygon points="288.64,875.37 295.04,875.37 291.84,881.26" fill="none" stroke="#111" stroke-width="1.3"/><polygon points="330.01,874.00 336.41,874.00 333.21,879.89" fill="none" stroke="#111" stroke-width="1.3"/><g stroke="#1f1f1f" stroke-width="1.6" fill="none"><line x1="188.4" y1="781.7" x2="188.4" y2="892.5"/><line x1="183.8" y1="892.50" x2="188.4" y2="892.50"/><line x1="183.8" y1="865.00" x2="188.4" y2="865.00"/><line x1="183.8" y1="837.50" x2="188.4" y2="837.50"/><line x1="183.8" y1="810.00" x2="188.4" y2="810.00"/><line x1="183.8" y1="782.50" x2="188.4" y2="782.50"/><line x1="183.8" y1="892.5" x2="353.3" y2="892.5"/><line x1="209.10" y1="892.5" x2="209.10" y2="897.1"/><line x1="250.47" y1="892.5" x2="250.47" y2="897.1"/><line x1="291.84" y1="892.5" x2="291.84" y2="897.1"/><line x1="333.21" y1="892.5" x2="333.21" y2="897.1"/></g><text x="182.60" y="896.70" font-size="12" font-weight="bold" text-anchor="end" fill="#222">0</text><text x="182.60" y="869.20" font-size="12" font-weight="bold" text-anchor="end" fill="#222">2</text><text x="182.60" y="841.70" font-size="12" font-weight="bold" text-anchor="end" fill="#222">4</text><text x="182.60" y="814.20" font-size="12" font-weight="bold" text-anchor="end" fill="#222">6</text><text x="182.60" y="786.70" font-size="12" font-weight="bold" text-anchor="end" fill="#222">8</text><text x="209.10" y="909.50" font-size="12" font-weight="bold" text-anchor="middle" fill="#222">0</text><text x="250.47" y="909.50" font-size="12" font-weight="bold" text-anchor="middle" fill="#222">1</text><text x="291.84" y="909.50" font-size="12" font-weight="bold" text-anchor="middle" fill="#222">4</text><text x="333.21" y="909.50" font-size="12" font-weight="bold" text-anchor="middle" fill="#222">10</text><text x="275.50" y="930.00" font-size="14" font-weight="bold" text-anchor="middle" fill="#222">α-FLAG (µg/ml)</text>
<polyline points="459.30,832.37 500.53,844.10 541.76,841.17 582.99,841.17" fill="none" stroke="#93abe2" stroke-width="1.5" stroke-dasharray="3.2,2.6"/><polyline points="459.30,832.37 500.53,845.93 541.76,835.67 582.99,836.40" fill="none" stroke="#3b3f9c" stroke-width="1.5"/><polyline points="459.30,888.10 500.53,888.47 541.76,888.47 582.99,888.83" fill="none" stroke="#8a8a8a" stroke-width="1.5" stroke-dasharray="3.2,2.6"/><polyline points="459.30,887.37 500.53,888.10 541.76,888.10 582.99,888.10" fill="none" stroke="#111" stroke-width="1.5"/><path d="M500.53,826.87V861.33M497.13,826.87h6.8M497.13,861.33h6.8" stroke="#93abe2" stroke-width="1.4" fill="none"/><path d="M541.76,825.03V857.30M538.36,825.03h6.8M538.36,857.30h6.8" stroke="#93abe2" stroke-width="1.4" fill="none"/><path d="M582.99,823.57V858.77M579.59,823.57h6.8M579.59,858.77h6.8" stroke="#93abe2" stroke-width="1.4" fill="none"/><polygon points="459.30,829.12 462.23,832.37 459.30,835.62 456.38,832.37" fill="#93abe2" stroke="#93abe2" stroke-width="0.5"/><polygon points="500.53,840.85 503.46,844.10 500.53,847.35 497.61,844.10" fill="#93abe2" stroke="#93abe2" stroke-width="0.5"/><polygon points="541.76,837.92 544.68,841.17 541.76,844.42 538.84,841.17" fill="#93abe2" stroke="#93abe2" stroke-width="0.5"/><polygon points="582.99,837.92 585.91,841.17 582.99,844.42 580.07,841.17" fill="#93abe2" stroke="#93abe2" stroke-width="0.5"/><path d="M459.30,808.90V855.83M455.90,808.90h6.8M455.90,855.83h6.8" stroke="#3b3f9c" stroke-width="1.4" fill="none"/><path d="M500.53,833.47V858.40M497.13,833.47h6.8M497.13,858.40h6.8" stroke="#3b3f9c" stroke-width="1.4" fill="none"/><path d="M541.76,804.50V866.83M538.36,804.50h6.8M538.36,866.83h6.8" stroke="#3b3f9c" stroke-width="1.4" fill="none"/><path d="M582.99,810.73V862.07M579.59,810.73h6.8M579.59,862.07h6.8" stroke="#3b3f9c" stroke-width="1.4" fill="none"/><polygon points="456.20,829.76 462.40,829.76 459.30,835.47" fill="#3b3f9c" stroke="#3b3f9c" stroke-width="0.8"/><polygon points="497.43,843.33 503.63,843.33 500.53,849.03" fill="#3b3f9c" stroke="#3b3f9c" stroke-width="0.8"/><polygon points="538.66,833.06 544.86,833.06 541.76,838.77" fill="#3b3f9c" stroke="#3b3f9c" stroke-width="0.8"/><polygon points="579.89,833.80 586.09,833.80 582.99,839.50" fill="#3b3f9c" stroke="#3b3f9c" stroke-width="0.8"/><polygon points="459.30,884.85 462.23,888.10 459.30,891.35 456.38,888.10" fill="none" stroke="#8a8a8a" stroke-width="1.2"/><polygon points="500.53,885.22 503.46,888.47 500.53,891.72 497.61,888.47" fill="none" stroke="#8a8a8a" stroke-width="1.2"/><polygon points="541.76,885.22 544.68,888.47 541.76,891.72 538.84,888.47" fill="none" stroke="#8a8a8a" stroke-width="1.2"/><polygon points="582.99,885.58 585.91,888.83 582.99,892.08 580.07,888.83" fill="none" stroke="#8a8a8a" stroke-width="1.2"/><polygon points="456.10,884.68 462.50,884.68 459.30,890.57" fill="none" stroke="#111" stroke-width="1.3"/><polygon points="497.33,885.41 503.73,885.41 500.53,891.30" fill="none" stroke="#111" stroke-width="1.3"/><polygon points="538.56,885.41 544.96,885.41 541.76,891.30" fill="none" stroke="#111" stroke-width="1.3"/><polygon points="579.79,885.41 586.19,885.41 582.99,891.30" fill="none" stroke="#111" stroke-width="1.3"/><g stroke="#1f1f1f" stroke-width="1.6" fill="none"><line x1="438.1" y1="781.7" x2="438.1" y2="892.5"/><line x1="433.5" y1="892.50" x2="438.1" y2="892.50"/><line x1="433.5" y1="855.83" x2="438.1" y2="855.83"/><line x1="433.5" y1="819.17" x2="438.1" y2="819.17"/><line x1="433.5" y1="782.50" x2="438.1" y2="782.50"/><line x1="433.5" y1="892.5" x2="604.3" y2="892.5"/><line x1="459.30" y1="892.5" x2="459.30" y2="897.1"/><line x1="500.53" y1="892.5" x2="500.53" y2="897.1"/><line x1="541.76" y1="892.5" x2="541.76" y2="897.1"/><line x1="582.99" y1="892.5" x2="582.99" y2="897.1"/></g><text x="432.30" y="896.70" font-size="12" font-weight="bold" text-anchor="end" fill="#222">0</text><text x="432.30" y="860.03" font-size="12" font-weight="bold" text-anchor="end" fill="#222">10</text><text x="432.30" y="823.37" font-size="12" font-weight="bold" text-anchor="end" fill="#222">20</text><text x="432.30" y="786.70" font-size="12" font-weight="bold" text-anchor="end" fill="#222">30</text><text x="459.30" y="909.50" font-size="12" font-weight="bold" text-anchor="middle" fill="#222">0</text><text x="500.53" y="909.50" font-size="12" font-weight="bold" text-anchor="middle" fill="#222">1</text><text x="541.76" y="909.50" font-size="12" font-weight="bold" text-anchor="middle" fill="#222">4</text><text x="582.99" y="909.50" font-size="12" font-weight="bold" text-anchor="middle" fill="#222">10</text><text x="524.80" y="930.00" font-size="14" font-weight="bold" text-anchor="middle" fill="#222">α-FLAG (µg/ml)</text>
<polyline points="339.3,417.0 344.8,417.0 344.8,463.8 339.3,463.8" fill="none" stroke="#111" stroke-width="1.7"/><path d="M350.50,427.40L350.50,424.70M350.50,427.40L353.07,426.57M350.50,427.40L352.09,429.58M350.50,427.40L348.91,429.58M350.50,427.40L347.93,426.57" stroke="#1e1e1e" stroke-width="1.5" stroke-linecap="round" fill="none"/><path d="M350.50,436.47L350.50,433.77M350.50,436.47L353.07,435.63M350.50,436.47L352.09,438.65M350.50,436.47L348.91,438.65M350.50,436.47L347.93,435.63" stroke="#1e1e1e" stroke-width="1.5" stroke-linecap="round" fill="none"/><path d="M350.50,445.53L350.50,442.83M350.50,445.53L353.07,444.70M350.50,445.53L352.09,447.72M350.50,445.53L348.91,447.72M350.50,445.53L347.93,444.70" stroke="#1e1e1e" stroke-width="1.5" stroke-linecap="round" fill="none"/><path d="M350.50,454.60L350.50,451.90M350.50,454.60L353.07,453.77M350.50,454.60L352.09,456.78M350.50,454.60L348.91,456.78M350.50,454.60L347.93,453.77" stroke="#1e1e1e" stroke-width="1.5" stroke-linecap="round" fill="none"/>
<polyline points="339.3,604.6 344.8,604.6 344.8,667.8 339.3,667.8" fill="none" stroke="#111" stroke-width="1.7"/><path d="M350.50,622.00L350.50,619.30M350.50,622.00L353.07,621.17M350.50,622.00L352.09,624.18M350.50,622.00L348.91,624.18M350.50,622.00L347.93,621.17" stroke="#1e1e1e" stroke-width="1.5" stroke-linecap="round" fill="none"/><path d="M350.50,631.17L350.50,628.47M350.50,631.17L353.07,630.33M350.50,631.17L352.09,633.35M350.50,631.17L348.91,633.35M350.50,631.17L347.93,630.33" stroke="#1e1e1e" stroke-width="1.5" stroke-linecap="round" fill="none"/><path d="M350.50,640.33L350.50,637.63M350.50,640.33L353.07,639.50M350.50,640.33L352.09,642.52M350.50,640.33L348.91,642.52M350.50,640.33L347.93,639.50" stroke="#1e1e1e" stroke-width="1.5" stroke-linecap="round" fill="none"/><path d="M350.50,649.50L350.50,646.80M350.50,649.50L353.07,648.67M350.50,649.50L352.09,651.68M350.50,649.50L348.91,651.68M350.50,649.50L347.93,648.67" stroke="#1e1e1e" stroke-width="1.5" stroke-linecap="round" fill="none"/>
<polyline points="339.3,862.8 344.8,862.8 344.8,875.4 339.3,875.4" fill="none" stroke="#111" stroke-width="1.7"/><path d="M350.50,861.00L350.50,858.30M350.50,861.00L353.07,860.17M350.50,861.00L352.09,863.18M350.50,861.00L348.91,863.18M350.50,861.00L347.93,860.17" stroke="#1e1e1e" stroke-width="1.5" stroke-linecap="round" fill="none"/><path d="M350.50,870.25L350.50,867.55M350.50,870.25L353.07,869.42M350.50,870.25L352.09,872.43M350.50,870.25L348.91,872.43M350.50,870.25L347.93,869.42" stroke="#1e1e1e" stroke-width="1.5" stroke-linecap="round" fill="none"/><path d="M350.50,879.50L350.50,876.80M350.50,879.50L353.07,878.67M350.50,879.50L352.09,881.68M350.50,879.50L348.91,881.68M350.50,879.50L347.93,878.67" stroke="#1e1e1e" stroke-width="1.5" stroke-linecap="round" fill="none"/>
<polyline points="593.2,408.0 598.7,408.0 598.7,430.0 593.2,430.0" fill="none" stroke="#111" stroke-width="1.7"/><path d="M605.50,417.40L605.50,422.80M603.16,418.75L607.84,421.45M607.84,418.75L603.16,421.45" stroke="#1e1e1e" stroke-width="1.4" stroke-linecap="round" fill="none"/>
<polyline points="592.3,614.9 597.8,614.9 597.8,643.9 592.3,643.9" fill="none" stroke="#111" stroke-width="1.7"/><path d="M604.50,628.30L604.50,633.70M602.16,629.65L606.84,632.35M606.84,629.65L602.16,632.35" stroke="#1e1e1e" stroke-width="1.4" stroke-linecap="round" fill="none"/>
<polyline points="590.5,834.5 596.0,834.5 596.0,842.3 590.5,842.3" fill="none" stroke="#111" stroke-width="1.7"/>
<text x="598.80" y="842.30" font-size="9.5" fill="#222">ns</text>
<text x="194.6" y="379.5" font-size="12" fill="#222" letter-spacing="-0.1">n = 3</text>
<text x="444.6" y="379.0" font-size="12" fill="#222" letter-spacing="-0.1">n = 5</text>
<text x="194.6" y="583.4" font-size="12" fill="#222" letter-spacing="-0.1">n = 3</text>
<text x="444.6" y="582.9" font-size="12" fill="#222" letter-spacing="-0.1">n = 5</text>
<text x="194.6" y="791.2" font-size="12" fill="#222" letter-spacing="-0.1">n = 3</text>
<text x="444.6" y="790.7" font-size="12" fill="#222" letter-spacing="-0.1">n = 5</text>
<text x="268.00" y="340.60" font-size="15.5" font-weight="bold" text-anchor="middle" fill="#1a1a1a">antibody binding</text>
<text x="268.30" y="359.40" font-size="15.5" font-weight="bold" text-anchor="middle" fill="#1a1a1a">(ELISA)</text>
<text x="519.80" y="340.60" font-size="15.5" font-weight="bold" text-anchor="middle" fill="#1a1a1a">signaling</text>
<text x="519.80" y="359.40" font-size="15.5" font-weight="bold" text-anchor="middle" fill="#1a1a1a">(cAMP)</text>
<text x="0" y="0" font-size="24.8" font-weight="bold" fill="#000" transform="translate(114.70,342.10) scale(0.92,1)">Dii</text>
<text x="0" y="0" font-size="24.8" font-weight="bold" fill="#000" transform="translate(353.70,342.00) scale(0.92,1)">Diii</text>
<text x="0" y="0" font-size="24.8" font-weight="bold" fill="#000" transform="translate(114.70,547.70) scale(0.92,1)">Eii</text>
<text x="0" y="0" font-size="24.8" font-weight="bold" fill="#000" transform="translate(355.00,547.90) scale(0.92,1)">Eiii</text>
<text x="0" y="0" font-size="24.8" font-weight="bold" fill="#000" transform="translate(114.70,749.30) scale(0.92,1)">Fii</text>
<text x="0" y="0" font-size="24.8" font-weight="bold" fill="#000" transform="translate(355.00,749.80) scale(0.92,1)">Fiii</text>
<text x="0.00" y="0.00" font-size="13.3" font-weight="bold" text-anchor="middle" fill="#1a1a1a" transform="translate(138.3,433.4) rotate(-90)">Antibody binding</text><text x="0.00" y="0.00" font-size="13.3" font-weight="bold" text-anchor="middle" fill="#1a1a1a" transform="translate(154.8,435.0) rotate(-90)">(fold changeversus untreated</text><text x="0.00" y="0.00" font-size="13.3" font-weight="bold" text-anchor="middle" fill="#1a1a1a" transform="translate(171.2,430.3) rotate(-90)">vector)</text>
<text x="0.00" y="0.00" font-size="13.3" font-weight="bold" text-anchor="middle" fill="#1a1a1a" transform="translate(138.3,637.0) rotate(-90)">Antibody binding</text><text x="0.00" y="0.00" font-size="13.3" font-weight="bold" text-anchor="middle" fill="#1a1a1a" transform="translate(154.8,637.0) rotate(-90)">(fold changeversus untreated</text><text x="0.00" y="0.00" font-size="13.3" font-weight="bold" text-anchor="middle" fill="#1a1a1a" transform="translate(171.2,634.8) rotate(-90)">vector)</text>
<text x="0.00" y="0.00" font-size="13.3" font-weight="bold" text-anchor="middle" fill="#1a1a1a" transform="translate(138.3,853.1) rotate(-90)">Antibody binding</text><text x="0.00" y="0.00" font-size="13.3" font-weight="bold" text-anchor="middle" fill="#1a1a1a" transform="translate(154.8,853.2) rotate(-90)">(fold changeversus untreated</text><text x="0.00" y="0.00" font-size="13.3" font-weight="bold" text-anchor="middle" fill="#1a1a1a" transform="translate(171.2,850.9) rotate(-90)">vector)</text>
<text x="0.00" y="0.00" font-size="13.3" font-weight="bold" text-anchor="middle" fill="#1a1a1a" transform="translate(379.2,428.5) rotate(-90)">cAMP levels (fold change</text><text x="0.00" y="0.00" font-size="13.3" font-weight="bold" text-anchor="middle" fill="#1a1a1a" transform="translate(395.5,430.7) rotate(-90)">versus untreated</text><text x="0.00" y="0.00" font-size="13.3" font-weight="bold" text-anchor="middle" fill="#1a1a1a" transform="translate(410.5,429.1) rotate(-90)">vector)</text>
<text x="0.00" y="0.00" font-size="13.3" font-weight="bold" text-anchor="middle" fill="#1a1a1a" transform="translate(379.2,634.0) rotate(-90)">cAMP levels (fold change</text><text x="0.00" y="0.00" font-size="13.3" font-weight="bold" text-anchor="middle" fill="#1a1a1a" transform="translate(395.5,636.6) rotate(-90)">versus untreated</text><text x="0.00" y="0.00" font-size="13.3" font-weight="bold" text-anchor="middle" fill="#1a1a1a" transform="translate(410.5,634.0) rotate(-90)">vector)</text>
<text x="0.00" y="0.00" font-size="13.3" font-weight="bold" text-anchor="middle" fill="#1a1a1a" transform="translate(379.2,837.8) rotate(-90)">cAMP levels (fold change</text><text x="0.00" y="0.00" font-size="13.3" font-weight="bold" text-anchor="middle" fill="#1a1a1a" transform="translate(395.5,839.5) rotate(-90)">versus untreated</text><text x="0.00" y="0.00" font-size="13.3" font-weight="bold" text-anchor="middle" fill="#1a1a1a" transform="translate(410.5,837.3) rotate(-90)">vector)</text>
<line x1="616.2" y1="377.5" x2="632.9000000000001" y2="377.5" stroke="#3b3f9c" stroke-width="1.9"/><polygon points="620.20,373.72 629.20,373.72 624.70,382.00" fill="#3b3f9c" stroke="#3b3f9c" stroke-width="0.8"/><text x="639.0" y="381.30" font-size="13.9" fill="#1a1a1a">GPR133 + 8E3E8</text><line x1="616.2" y1="402.1" x2="632.9000000000001" y2="402.1" stroke="#93abe2" stroke-width="1.9" stroke-dasharray="2.2,2.2"/><polygon points="624.70,396.85 629.43,402.10 624.70,407.35 619.98,402.10" fill="#93abe2" stroke="#93abe2" stroke-width="0.5"/><text x="639.0" y="407.00" font-size="13.9" fill="#1a1a1a">GPR133 + NaN<tspan font-size="10" dy="3">3</tspan></text><line x1="616.2" y1="426.7" x2="632.9000000000001" y2="426.7" stroke="#111" stroke-width="1.9"/><polygon points="620.20,422.92 629.20,422.92 624.70,431.20" fill="#fff" stroke="#111" stroke-width="1.7"/><text x="639.0" y="431.60" font-size="13.9" fill="#1a1a1a">vector + 8E3E8</text><line x1="616.2" y1="451.2" x2="632.9000000000001" y2="451.2" stroke="#8a8a8a" stroke-width="1.9" stroke-dasharray="2.2,2.2"/><polygon points="624.70,445.95 629.43,451.20 624.70,456.45 619.98,451.20" fill="#fff" stroke="#8a8a8a" stroke-width="1.8"/><circle cx="624.7" cy="451.2" r="0.9" fill="#8a8a8a"/><text x="639.0" y="456.10" font-size="13.9" fill="#1a1a1a">vector + NaN<tspan font-size="10" dy="3">3</tspan></text>
<line x1="620.1" y1="584.4" x2="636.8000000000001" y2="584.4" stroke="#3b3f9c" stroke-width="1.9"/><polygon points="624.10,580.62 633.10,580.62 628.60,588.90" fill="#3b3f9c" stroke="#3b3f9c" stroke-width="0.8"/><text x="642.3" y="589.30" font-size="13.9" fill="#1a1a1a">GPR133 + α-HA</text><line x1="620.1" y1="609.4" x2="636.8000000000001" y2="609.4" stroke="#93abe2" stroke-width="1.9" stroke-dasharray="2.2,2.2"/><polygon points="628.60,604.15 633.33,609.40 628.60,614.65 623.88,609.40" fill="#93abe2" stroke="#93abe2" stroke-width="0.5"/><text x="642.3" y="614.30" font-size="13.9" fill="#1a1a1a">GPR133 + NaN<tspan font-size="10" dy="3">3</tspan></text><line x1="620.1" y1="633.5" x2="636.8000000000001" y2="633.5" stroke="#111" stroke-width="1.9"/><polygon points="624.10,629.72 633.10,629.72 628.60,638.00" fill="#fff" stroke="#111" stroke-width="1.7"/><text x="642.3" y="638.40" font-size="13.9" fill="#1a1a1a">vector + α-HA</text><line x1="620.1" y1="657.4" x2="636.8000000000001" y2="657.4" stroke="#8a8a8a" stroke-width="1.9" stroke-dasharray="2.2,2.2"/><polygon points="628.60,652.15 633.33,657.40 628.60,662.65 623.88,657.40" fill="#fff" stroke="#8a8a8a" stroke-width="1.8"/><circle cx="628.6" cy="657.4" r="0.9" fill="#8a8a8a"/><text x="642.3" y="662.30" font-size="13.9" fill="#1a1a1a">vector + NaN<tspan font-size="10" dy="3">3</tspan></text>
<line x1="620.1" y1="792.7" x2="636.8000000000001" y2="792.7" stroke="#3b3f9c" stroke-width="1.9"/><polygon points="624.10,788.92 633.10,788.92 628.60,797.20" fill="#3b3f9c" stroke="#3b3f9c" stroke-width="0.8"/><text x="642.3" y="797.60" font-size="13.9" fill="#1a1a1a">GPR133 + α-Flag</text><line x1="620.1" y1="817.7" x2="636.8000000000001" y2="817.7" stroke="#93abe2" stroke-width="1.9" stroke-dasharray="2.2,2.2"/><polygon points="628.60,812.45 633.33,817.70 628.60,822.95 623.88,817.70" fill="#93abe2" stroke="#93abe2" stroke-width="0.5"/><text x="642.3" y="822.60" font-size="13.9" fill="#1a1a1a">GPR133 + NaN<tspan font-size="10" dy="3">3</tspan></text><line x1="620.1" y1="842.0" x2="636.8000000000001" y2="842.0" stroke="#111" stroke-width="1.9"/><polygon points="624.10,838.22 633.10,838.22 628.60,846.50" fill="#fff" stroke="#111" stroke-width="1.7"/><text x="642.3" y="846.90" font-size="13.9" fill="#1a1a1a">vector + α-Flag</text><line x1="620.1" y1="865.9" x2="636.8000000000001" y2="865.9" stroke="#8a8a8a" stroke-width="1.9" stroke-dasharray="2.2,2.2"/><polygon points="628.60,860.65 633.33,865.90 628.60,871.15 623.88,865.90" fill="#fff" stroke="#8a8a8a" stroke-width="1.8"/><circle cx="628.6" cy="865.9" r="0.9" fill="#8a8a8a"/><text x="642.3" y="870.80" font-size="13.9" fill="#1a1a1a">vector + NaN<tspan font-size="10" dy="3">3</tspan></text>
</svg></body></html>
